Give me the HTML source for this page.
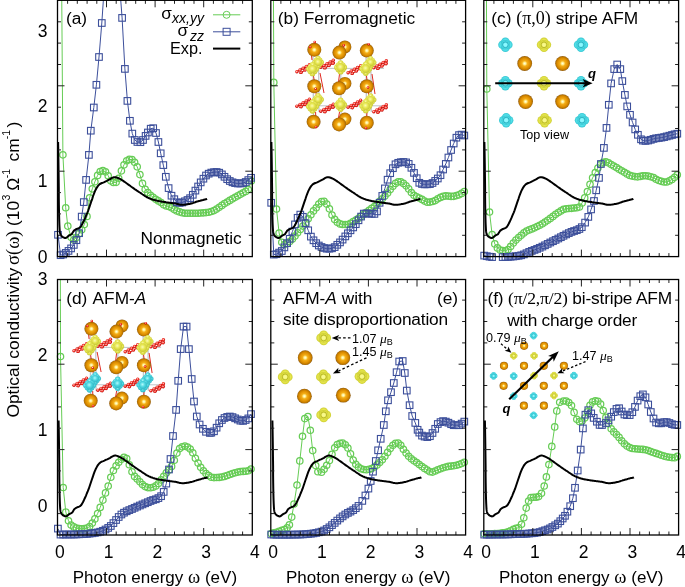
<!DOCTYPE html><html><head><meta charset="utf-8"><style>html,body{margin:0;padding:0;background:#fff;}svg{display:block;will-change:transform;}text{font-family:"Liberation Sans",sans-serif;fill:#000;}</style></head><body>
<svg width="685" height="587" viewBox="0 0 685 587">
<defs>
<clipPath id="clipa"><rect x="57.5" y="0.3" width="194.8" height="256.3"/></clipPath>
<clipPath id="clipb"><rect x="270.8" y="0.3" width="194.8" height="256.3"/></clipPath>
<clipPath id="clipc"><rect x="483.8" y="0.3" width="194.8" height="256.3"/></clipPath>
<clipPath id="clipd"><rect x="57.5" y="279.5" width="194.8" height="255.5"/></clipPath>
<clipPath id="clipe"><rect x="270.8" y="279.5" width="194.8" height="255.5"/></clipPath>
<clipPath id="clipf"><rect x="483.8" y="279.5" width="194.8" height="255.5"/></clipPath>
<radialGradient id="gO" cx="0.5" cy="0.5" r="0.5"><stop offset="0" stop-color="#ffffe8"/><stop offset="0.17" stop-color="#ffee90"/><stop offset="0.36" stop-color="#f4ae18"/><stop offset="0.7" stop-color="#de8e00"/><stop offset="0.9" stop-color="#b97400"/><stop offset="1" stop-color="#8c5a14"/></radialGradient>
<radialGradient id="gY" cx="0.5" cy="0.5" r="0.5"><stop offset="0" stop-color="#f4f480"/><stop offset="0.7" stop-color="#e2e244"/><stop offset="1" stop-color="#cccc34"/></radialGradient>
<radialGradient id="gC" cx="0.5" cy="0.5" r="0.5"><stop offset="0" stop-color="#84f6fa"/><stop offset="0.7" stop-color="#4cdce6"/><stop offset="1" stop-color="#36c4d0"/></radialGradient>
<radialGradient id="gR" cx="0.45" cy="0.42" r="0.58"><stop offset="0" stop-color="#ffe4e0"/><stop offset="0.35" stop-color="#ff6a60"/><stop offset="0.65" stop-color="#e81c14"/><stop offset="1" stop-color="#b00808"/></radialGradient>
<radialGradient id="gY2" cx="0.45" cy="0.42" r="0.6"><stop offset="0" stop-color="#fbfbb0"/><stop offset="0.5" stop-color="#e6e650"/><stop offset="1" stop-color="#c6c636"/></radialGradient>
<radialGradient id="gC2" cx="0.45" cy="0.42" r="0.6"><stop offset="0" stop-color="#b0fafc"/><stop offset="0.5" stop-color="#4cd6e0"/><stop offset="1" stop-color="#30b4c2"/></radialGradient>

</defs>
<path d="M313 57L313.5 118 M340.6 57L341.1 118 M366 57L366.5 118 M318.5 52L319 112 M370.8 52L371.3 112" stroke="#c4c8cc" stroke-width="1.3" fill="none"/><circle cx="344.9" cy="46.9" r="6.5" fill="url(#gO)"/><circle cx="344.9" cy="83.4" r="6.5" fill="url(#gO)"/><circle cx="344.9" cy="119" r="6.5" fill="url(#gO)"/><path d="M310.5 47L312 60 M314.5 42L315 47 M313.5 76L315.6 88.7 M315.6 88.7L316.5 98 M315.6 112L316 128 M320 73L324 93 M368.5 44L370 60 M366.5 76L368 87.5 M368 87.5L369 98 M367 112L366 129 M372 74L375 94 M343.7 45.3L344 52 M339.5 74L338.5 82 M339.5 112L338.5 118" stroke="#e02a22" stroke-width="1" fill="none"/><circle cx="314.3" cy="49.8" r="7" fill="url(#gO)"/><circle cx="339.4" cy="52.6" r="7" fill="url(#gO)"/><circle cx="366.8" cy="50.6" r="7" fill="url(#gO)"/><circle cx="314.3" cy="86.2" r="7" fill="url(#gO)"/><circle cx="339.1" cy="88.2" r="7" fill="url(#gO)"/><circle cx="366.8" cy="86.2" r="7" fill="url(#gO)"/><circle cx="313.6" cy="121.8" r="7" fill="url(#gO)"/><circle cx="339.1" cy="124.4" r="7" fill="url(#gO)"/><circle cx="366.8" cy="122.7" r="7" fill="url(#gO)"/><path d="M300 68.4H384" stroke="#c0c4c8" stroke-width="1" fill="none"/><path d="M296.9 71.8L309.4 64.8M299.4 73.4L310.9 66.8 M320.8 67.3L333.3 60.3M323.3 68.9L334.8 62.3 M348.1 72.8L360.6 65.8M350.6 74.4L362.1 67.8 M373.8 67.8L386.3 60.8M376.3 69.4L387.8 62.8" stroke="#d81c14" stroke-width="1.2" fill="none"/><circle cx="301.12" cy="72.41" r="1.7" fill="url(#gR)"/><circle cx="305.15" cy="70.1" r="1.7" fill="url(#gR)"/><circle cx="309.17" cy="67.79" r="1.7" fill="url(#gR)"/><circle cx="296.9" cy="71.8" r="1.7" fill="url(#gR)"/><circle cx="300.02" cy="70.05" r="1.7" fill="url(#gR)"/><circle cx="303.15" cy="68.3" r="1.7" fill="url(#gR)"/><circle cx="306.27" cy="66.55" r="1.7" fill="url(#gR)"/><circle cx="309.4" cy="64.8" r="1.7" fill="url(#gR)"/><circle cx="325.03" cy="67.91" r="1.7" fill="url(#gR)"/><circle cx="329.05" cy="65.6" r="1.7" fill="url(#gR)"/><circle cx="333.07" cy="63.29" r="1.7" fill="url(#gR)"/><circle cx="320.8" cy="67.3" r="1.7" fill="url(#gR)"/><circle cx="323.93" cy="65.55" r="1.7" fill="url(#gR)"/><circle cx="327.05" cy="63.8" r="1.7" fill="url(#gR)"/><circle cx="330.18" cy="62.05" r="1.7" fill="url(#gR)"/><circle cx="333.3" cy="60.3" r="1.7" fill="url(#gR)"/><circle cx="352.33" cy="73.41" r="1.7" fill="url(#gR)"/><circle cx="356.35" cy="71.1" r="1.7" fill="url(#gR)"/><circle cx="360.38" cy="68.79" r="1.7" fill="url(#gR)"/><circle cx="348.1" cy="72.8" r="1.7" fill="url(#gR)"/><circle cx="351.23" cy="71.05" r="1.7" fill="url(#gR)"/><circle cx="354.35" cy="69.3" r="1.7" fill="url(#gR)"/><circle cx="357.48" cy="67.55" r="1.7" fill="url(#gR)"/><circle cx="360.6" cy="65.8" r="1.7" fill="url(#gR)"/><circle cx="378.03" cy="68.41" r="1.7" fill="url(#gR)"/><circle cx="382.05" cy="66.1" r="1.7" fill="url(#gR)"/><circle cx="386.07" cy="63.79" r="1.7" fill="url(#gR)"/><circle cx="373.8" cy="67.8" r="1.7" fill="url(#gR)"/><circle cx="376.93" cy="66.05" r="1.7" fill="url(#gR)"/><circle cx="380.05" cy="64.3" r="1.7" fill="url(#gR)"/><circle cx="383.18" cy="62.55" r="1.7" fill="url(#gR)"/><circle cx="386.3" cy="60.8" r="1.7" fill="url(#gR)"/><g fill="url(#gY2)"><circle cx="318.1" cy="58.33" r="2.61"/><circle cx="318.1" cy="66.07" r="2.61"/><circle cx="314.77" cy="62.2" r="2.52"/><circle cx="321.43" cy="62.2" r="2.52"/><circle cx="316.03" cy="60.13" r="2.34"/><circle cx="320.17" cy="64.27" r="2.34"/><circle cx="320.17" cy="60.13" r="2.34"/><circle cx="316.03" cy="64.27" r="2.34"/><circle cx="318.1" cy="62.2" r="3.69"/></g><g fill="url(#gY2)"><circle cx="370.6" cy="58.53" r="2.61"/><circle cx="370.6" cy="66.27" r="2.61"/><circle cx="367.27" cy="62.4" r="2.52"/><circle cx="373.93" cy="62.4" r="2.52"/><circle cx="368.53" cy="60.33" r="2.34"/><circle cx="372.67" cy="64.47" r="2.34"/><circle cx="372.67" cy="60.33" r="2.34"/><circle cx="368.53" cy="64.47" r="2.34"/><circle cx="370.6" cy="62.4" r="3.69"/></g><g fill="url(#gY2)"><circle cx="312.5" cy="64.8" r="2.9"/><circle cx="312.5" cy="73.4" r="2.9"/><circle cx="308.8" cy="69.1" r="2.8"/><circle cx="316.2" cy="69.1" r="2.8"/><circle cx="310.2" cy="66.8" r="2.6"/><circle cx="314.8" cy="71.4" r="2.6"/><circle cx="314.8" cy="66.8" r="2.6"/><circle cx="310.2" cy="71.4" r="2.6"/><circle cx="312.5" cy="69.1" r="4.1"/></g><g fill="url(#gY2)"><circle cx="340.6" cy="63.1" r="2.9"/><circle cx="340.6" cy="71.7" r="2.9"/><circle cx="336.9" cy="67.4" r="2.8"/><circle cx="344.3" cy="67.4" r="2.8"/><circle cx="338.3" cy="65.1" r="2.6"/><circle cx="342.9" cy="69.7" r="2.6"/><circle cx="342.9" cy="65.1" r="2.6"/><circle cx="338.3" cy="69.7" r="2.6"/><circle cx="340.6" cy="67.4" r="4.1"/></g><g fill="url(#gY2)"><circle cx="365.8" cy="64.4" r="2.9"/><circle cx="365.8" cy="73" r="2.9"/><circle cx="362.1" cy="68.7" r="2.8"/><circle cx="369.5" cy="68.7" r="2.8"/><circle cx="363.5" cy="66.4" r="2.6"/><circle cx="368.1" cy="71" r="2.6"/><circle cx="368.1" cy="66.4" r="2.6"/><circle cx="363.5" cy="71" r="2.6"/><circle cx="365.8" cy="68.7" r="4.1"/></g><path d="M300 105.8H384" stroke="#c0c4c8" stroke-width="1" fill="none"/><path d="M296.9 106.2L309.4 99.2M299.4 107.8L310.9 101.2 M320.8 111.2L333.3 104.2M323.3 112.8L334.8 106.2 M348.1 107.2L360.6 100.2M350.6 108.8L362.1 102.2 M373.8 111.7L386.3 104.7M376.3 113.3L387.8 106.7" stroke="#d81c14" stroke-width="1.2" fill="none"/><circle cx="301.12" cy="106.81" r="1.7" fill="url(#gR)"/><circle cx="305.15" cy="104.5" r="1.7" fill="url(#gR)"/><circle cx="309.17" cy="102.19" r="1.7" fill="url(#gR)"/><circle cx="296.9" cy="106.2" r="1.7" fill="url(#gR)"/><circle cx="300.02" cy="104.45" r="1.7" fill="url(#gR)"/><circle cx="303.15" cy="102.7" r="1.7" fill="url(#gR)"/><circle cx="306.27" cy="100.95" r="1.7" fill="url(#gR)"/><circle cx="309.4" cy="99.2" r="1.7" fill="url(#gR)"/><circle cx="325.03" cy="111.81" r="1.7" fill="url(#gR)"/><circle cx="329.05" cy="109.5" r="1.7" fill="url(#gR)"/><circle cx="333.07" cy="107.19" r="1.7" fill="url(#gR)"/><circle cx="320.8" cy="111.2" r="1.7" fill="url(#gR)"/><circle cx="323.93" cy="109.45" r="1.7" fill="url(#gR)"/><circle cx="327.05" cy="107.7" r="1.7" fill="url(#gR)"/><circle cx="330.18" cy="105.95" r="1.7" fill="url(#gR)"/><circle cx="333.3" cy="104.2" r="1.7" fill="url(#gR)"/><circle cx="352.33" cy="107.81" r="1.7" fill="url(#gR)"/><circle cx="356.35" cy="105.5" r="1.7" fill="url(#gR)"/><circle cx="360.38" cy="103.19" r="1.7" fill="url(#gR)"/><circle cx="348.1" cy="107.2" r="1.7" fill="url(#gR)"/><circle cx="351.23" cy="105.45" r="1.7" fill="url(#gR)"/><circle cx="354.35" cy="103.7" r="1.7" fill="url(#gR)"/><circle cx="357.48" cy="101.95" r="1.7" fill="url(#gR)"/><circle cx="360.6" cy="100.2" r="1.7" fill="url(#gR)"/><circle cx="378.03" cy="112.31" r="1.7" fill="url(#gR)"/><circle cx="382.05" cy="110" r="1.7" fill="url(#gR)"/><circle cx="386.07" cy="107.69" r="1.7" fill="url(#gR)"/><circle cx="373.8" cy="111.7" r="1.7" fill="url(#gR)"/><circle cx="376.93" cy="109.95" r="1.7" fill="url(#gR)"/><circle cx="380.05" cy="108.2" r="1.7" fill="url(#gR)"/><circle cx="383.18" cy="106.45" r="1.7" fill="url(#gR)"/><circle cx="386.3" cy="104.7" r="1.7" fill="url(#gR)"/><g fill="url(#gY2)"><circle cx="318.1" cy="95.73" r="2.61"/><circle cx="318.1" cy="103.47" r="2.61"/><circle cx="314.77" cy="99.6" r="2.52"/><circle cx="321.43" cy="99.6" r="2.52"/><circle cx="316.03" cy="97.53" r="2.34"/><circle cx="320.17" cy="101.67" r="2.34"/><circle cx="320.17" cy="97.53" r="2.34"/><circle cx="316.03" cy="101.67" r="2.34"/><circle cx="318.1" cy="99.6" r="3.69"/></g><g fill="url(#gY2)"><circle cx="370.6" cy="95.93" r="2.61"/><circle cx="370.6" cy="103.67" r="2.61"/><circle cx="367.27" cy="99.8" r="2.52"/><circle cx="373.93" cy="99.8" r="2.52"/><circle cx="368.53" cy="97.73" r="2.34"/><circle cx="372.67" cy="101.87" r="2.34"/><circle cx="372.67" cy="97.73" r="2.34"/><circle cx="368.53" cy="101.87" r="2.34"/><circle cx="370.6" cy="99.8" r="3.69"/></g><g fill="url(#gY2)"><circle cx="312.5" cy="102.2" r="2.9"/><circle cx="312.5" cy="110.8" r="2.9"/><circle cx="308.8" cy="106.5" r="2.8"/><circle cx="316.2" cy="106.5" r="2.8"/><circle cx="310.2" cy="104.2" r="2.6"/><circle cx="314.8" cy="108.8" r="2.6"/><circle cx="314.8" cy="104.2" r="2.6"/><circle cx="310.2" cy="108.8" r="2.6"/><circle cx="312.5" cy="106.5" r="4.1"/></g><g fill="url(#gY2)"><circle cx="340.6" cy="100.5" r="2.9"/><circle cx="340.6" cy="109.1" r="2.9"/><circle cx="336.9" cy="104.8" r="2.8"/><circle cx="344.3" cy="104.8" r="2.8"/><circle cx="338.3" cy="102.5" r="2.6"/><circle cx="342.9" cy="107.1" r="2.6"/><circle cx="342.9" cy="102.5" r="2.6"/><circle cx="338.3" cy="107.1" r="2.6"/><circle cx="340.6" cy="104.8" r="4.1"/></g><g fill="url(#gY2)"><circle cx="365.8" cy="101.8" r="2.9"/><circle cx="365.8" cy="110.4" r="2.9"/><circle cx="362.1" cy="106.1" r="2.8"/><circle cx="369.5" cy="106.1" r="2.8"/><circle cx="363.5" cy="103.8" r="2.6"/><circle cx="368.1" cy="108.4" r="2.6"/><circle cx="368.1" cy="103.8" r="2.6"/><circle cx="363.5" cy="108.4" r="2.6"/><circle cx="365.8" cy="106.1" r="4.1"/></g><circle cx="310.2" cy="47" r="1.3" fill="url(#gR)"/><circle cx="314.7" cy="42" r="1.3" fill="url(#gR)"/><circle cx="343.7" cy="45.3" r="1.3" fill="url(#gR)"/><circle cx="368.6" cy="44.2" r="1.3" fill="url(#gR)"/><circle cx="315.6" cy="88.7" r="1.3" fill="url(#gR)"/><circle cx="368" cy="87.5" r="1.3" fill="url(#gR)"/><circle cx="316" cy="127" r="1.3" fill="url(#gR)"/><circle cx="366" cy="128" r="1.3" fill="url(#gR)"/><path d="M90.1 336L90.6 397 M117.7 336L118.2 397 M143.1 336L143.6 397 M95.6 331L96.1 391 M147.9 331L148.4 391" stroke="#c4c8cc" stroke-width="1.3" fill="none"/><circle cx="122" cy="325.9" r="6.5" fill="url(#gO)"/><circle cx="122" cy="362.4" r="6.5" fill="url(#gO)"/><circle cx="122" cy="398" r="6.5" fill="url(#gO)"/><path d="M87.6 326L89.1 339 M91.6 321L92.1 326 M90.6 355L92.7 367.7 M92.7 367.7L93.6 377 M92.7 391L93.1 407 M97.1 352L101.1 372 M145.6 323L147.1 339 M143.6 355L145.1 366.5 M145.1 366.5L146.1 377 M144.1 391L143.1 408 M149.1 353L152.1 373 M120.8 324.3L121.1 331 M116.6 353L115.6 361 M116.6 391L115.6 397" stroke="#e02a22" stroke-width="1" fill="none"/><circle cx="91.4" cy="328.8" r="7" fill="url(#gO)"/><circle cx="116.5" cy="331.6" r="7" fill="url(#gO)"/><circle cx="143.9" cy="329.6" r="7" fill="url(#gO)"/><circle cx="91.4" cy="365.2" r="7" fill="url(#gO)"/><circle cx="116.2" cy="367.2" r="7" fill="url(#gO)"/><circle cx="143.9" cy="365.2" r="7" fill="url(#gO)"/><circle cx="90.7" cy="400.8" r="7" fill="url(#gO)"/><circle cx="116.2" cy="403.4" r="7" fill="url(#gO)"/><circle cx="143.9" cy="401.7" r="7" fill="url(#gO)"/><path d="M77.1 347.4H161.1" stroke="#c0c4c8" stroke-width="1" fill="none"/><path d="M74 350.8L86.5 343.8M76.5 352.4L88 345.8 M97.9 346.3L110.4 339.3M100.4 347.9L111.9 341.3 M125.2 351.8L137.7 344.8M127.7 353.4L139.2 346.8 M150.9 346.8L163.4 339.8M153.4 348.4L164.9 341.8" stroke="#d81c14" stroke-width="1.2" fill="none"/><circle cx="78.22" cy="351.41" r="1.7" fill="url(#gR)"/><circle cx="82.25" cy="349.1" r="1.7" fill="url(#gR)"/><circle cx="86.27" cy="346.79" r="1.7" fill="url(#gR)"/><circle cx="74" cy="350.8" r="1.7" fill="url(#gR)"/><circle cx="77.12" cy="349.05" r="1.7" fill="url(#gR)"/><circle cx="80.25" cy="347.3" r="1.7" fill="url(#gR)"/><circle cx="83.37" cy="345.55" r="1.7" fill="url(#gR)"/><circle cx="86.5" cy="343.8" r="1.7" fill="url(#gR)"/><circle cx="102.13" cy="346.91" r="1.7" fill="url(#gR)"/><circle cx="106.15" cy="344.6" r="1.7" fill="url(#gR)"/><circle cx="110.17" cy="342.29" r="1.7" fill="url(#gR)"/><circle cx="97.9" cy="346.3" r="1.7" fill="url(#gR)"/><circle cx="101.03" cy="344.55" r="1.7" fill="url(#gR)"/><circle cx="104.15" cy="342.8" r="1.7" fill="url(#gR)"/><circle cx="107.28" cy="341.05" r="1.7" fill="url(#gR)"/><circle cx="110.4" cy="339.3" r="1.7" fill="url(#gR)"/><circle cx="129.43" cy="352.41" r="1.7" fill="url(#gR)"/><circle cx="133.45" cy="350.1" r="1.7" fill="url(#gR)"/><circle cx="137.47" cy="347.79" r="1.7" fill="url(#gR)"/><circle cx="125.2" cy="351.8" r="1.7" fill="url(#gR)"/><circle cx="128.33" cy="350.05" r="1.7" fill="url(#gR)"/><circle cx="131.45" cy="348.3" r="1.7" fill="url(#gR)"/><circle cx="134.58" cy="346.55" r="1.7" fill="url(#gR)"/><circle cx="137.7" cy="344.8" r="1.7" fill="url(#gR)"/><circle cx="155.13" cy="347.41" r="1.7" fill="url(#gR)"/><circle cx="159.15" cy="345.1" r="1.7" fill="url(#gR)"/><circle cx="163.17" cy="342.79" r="1.7" fill="url(#gR)"/><circle cx="150.9" cy="346.8" r="1.7" fill="url(#gR)"/><circle cx="154.03" cy="345.05" r="1.7" fill="url(#gR)"/><circle cx="157.15" cy="343.3" r="1.7" fill="url(#gR)"/><circle cx="160.28" cy="341.55" r="1.7" fill="url(#gR)"/><circle cx="163.4" cy="339.8" r="1.7" fill="url(#gR)"/><g fill="url(#gY2)"><circle cx="95.2" cy="337.33" r="2.61"/><circle cx="95.2" cy="345.07" r="2.61"/><circle cx="91.87" cy="341.2" r="2.52"/><circle cx="98.53" cy="341.2" r="2.52"/><circle cx="93.13" cy="339.13" r="2.34"/><circle cx="97.27" cy="343.27" r="2.34"/><circle cx="97.27" cy="339.13" r="2.34"/><circle cx="93.13" cy="343.27" r="2.34"/><circle cx="95.2" cy="341.2" r="3.69"/></g><g fill="url(#gY2)"><circle cx="147.7" cy="337.53" r="2.61"/><circle cx="147.7" cy="345.27" r="2.61"/><circle cx="144.37" cy="341.4" r="2.52"/><circle cx="151.03" cy="341.4" r="2.52"/><circle cx="145.63" cy="339.33" r="2.34"/><circle cx="149.77" cy="343.47" r="2.34"/><circle cx="149.77" cy="339.33" r="2.34"/><circle cx="145.63" cy="343.47" r="2.34"/><circle cx="147.7" cy="341.4" r="3.69"/></g><g fill="url(#gY2)"><circle cx="89.6" cy="343.8" r="2.9"/><circle cx="89.6" cy="352.4" r="2.9"/><circle cx="85.9" cy="348.1" r="2.8"/><circle cx="93.3" cy="348.1" r="2.8"/><circle cx="87.3" cy="345.8" r="2.6"/><circle cx="91.9" cy="350.4" r="2.6"/><circle cx="91.9" cy="345.8" r="2.6"/><circle cx="87.3" cy="350.4" r="2.6"/><circle cx="89.6" cy="348.1" r="4.1"/></g><g fill="url(#gY2)"><circle cx="117.7" cy="342.1" r="2.9"/><circle cx="117.7" cy="350.7" r="2.9"/><circle cx="114" cy="346.4" r="2.8"/><circle cx="121.4" cy="346.4" r="2.8"/><circle cx="115.4" cy="344.1" r="2.6"/><circle cx="120" cy="348.7" r="2.6"/><circle cx="120" cy="344.1" r="2.6"/><circle cx="115.4" cy="348.7" r="2.6"/><circle cx="117.7" cy="346.4" r="4.1"/></g><g fill="url(#gY2)"><circle cx="142.9" cy="343.4" r="2.9"/><circle cx="142.9" cy="352" r="2.9"/><circle cx="139.2" cy="347.7" r="2.8"/><circle cx="146.6" cy="347.7" r="2.8"/><circle cx="140.6" cy="345.4" r="2.6"/><circle cx="145.2" cy="350" r="2.6"/><circle cx="145.2" cy="345.4" r="2.6"/><circle cx="140.6" cy="350" r="2.6"/><circle cx="142.9" cy="347.7" r="4.1"/></g><path d="M77.1 384.8H161.1" stroke="#c0c4c8" stroke-width="1" fill="none"/><path d="M74 385.2L86.5 378.2M76.5 386.8L88 380.2 M97.9 390.2L110.4 383.2M100.4 391.8L111.9 385.2 M125.2 386.2L137.7 379.2M127.7 387.8L139.2 381.2 M150.9 390.7L163.4 383.7M153.4 392.3L164.9 385.7" stroke="#d81c14" stroke-width="1.2" fill="none"/><circle cx="78.22" cy="385.81" r="1.7" fill="url(#gR)"/><circle cx="82.25" cy="383.5" r="1.7" fill="url(#gR)"/><circle cx="86.27" cy="381.19" r="1.7" fill="url(#gR)"/><circle cx="74" cy="385.2" r="1.7" fill="url(#gR)"/><circle cx="77.12" cy="383.45" r="1.7" fill="url(#gR)"/><circle cx="80.25" cy="381.7" r="1.7" fill="url(#gR)"/><circle cx="83.37" cy="379.95" r="1.7" fill="url(#gR)"/><circle cx="86.5" cy="378.2" r="1.7" fill="url(#gR)"/><circle cx="102.13" cy="390.81" r="1.7" fill="url(#gR)"/><circle cx="106.15" cy="388.5" r="1.7" fill="url(#gR)"/><circle cx="110.17" cy="386.19" r="1.7" fill="url(#gR)"/><circle cx="97.9" cy="390.2" r="1.7" fill="url(#gR)"/><circle cx="101.03" cy="388.45" r="1.7" fill="url(#gR)"/><circle cx="104.15" cy="386.7" r="1.7" fill="url(#gR)"/><circle cx="107.28" cy="384.95" r="1.7" fill="url(#gR)"/><circle cx="110.4" cy="383.2" r="1.7" fill="url(#gR)"/><circle cx="129.43" cy="386.81" r="1.7" fill="url(#gR)"/><circle cx="133.45" cy="384.5" r="1.7" fill="url(#gR)"/><circle cx="137.47" cy="382.19" r="1.7" fill="url(#gR)"/><circle cx="125.2" cy="386.2" r="1.7" fill="url(#gR)"/><circle cx="128.33" cy="384.45" r="1.7" fill="url(#gR)"/><circle cx="131.45" cy="382.7" r="1.7" fill="url(#gR)"/><circle cx="134.58" cy="380.95" r="1.7" fill="url(#gR)"/><circle cx="137.7" cy="379.2" r="1.7" fill="url(#gR)"/><circle cx="155.13" cy="391.31" r="1.7" fill="url(#gR)"/><circle cx="159.15" cy="389" r="1.7" fill="url(#gR)"/><circle cx="163.17" cy="386.69" r="1.7" fill="url(#gR)"/><circle cx="150.9" cy="390.7" r="1.7" fill="url(#gR)"/><circle cx="154.03" cy="388.95" r="1.7" fill="url(#gR)"/><circle cx="157.15" cy="387.2" r="1.7" fill="url(#gR)"/><circle cx="160.28" cy="385.45" r="1.7" fill="url(#gR)"/><circle cx="163.4" cy="383.7" r="1.7" fill="url(#gR)"/><g fill="url(#gC2)"><circle cx="95.2" cy="374.73" r="2.61"/><circle cx="95.2" cy="382.47" r="2.61"/><circle cx="91.87" cy="378.6" r="2.52"/><circle cx="98.53" cy="378.6" r="2.52"/><circle cx="93.13" cy="376.53" r="2.34"/><circle cx="97.27" cy="380.67" r="2.34"/><circle cx="97.27" cy="376.53" r="2.34"/><circle cx="93.13" cy="380.67" r="2.34"/><circle cx="95.2" cy="378.6" r="3.69"/></g><g fill="url(#gC2)"><circle cx="147.7" cy="374.93" r="2.61"/><circle cx="147.7" cy="382.67" r="2.61"/><circle cx="144.37" cy="378.8" r="2.52"/><circle cx="151.03" cy="378.8" r="2.52"/><circle cx="145.63" cy="376.73" r="2.34"/><circle cx="149.77" cy="380.87" r="2.34"/><circle cx="149.77" cy="376.73" r="2.34"/><circle cx="145.63" cy="380.87" r="2.34"/><circle cx="147.7" cy="378.8" r="3.69"/></g><g fill="url(#gC2)"><circle cx="89.6" cy="381.2" r="2.9"/><circle cx="89.6" cy="389.8" r="2.9"/><circle cx="85.9" cy="385.5" r="2.8"/><circle cx="93.3" cy="385.5" r="2.8"/><circle cx="87.3" cy="383.2" r="2.6"/><circle cx="91.9" cy="387.8" r="2.6"/><circle cx="91.9" cy="383.2" r="2.6"/><circle cx="87.3" cy="387.8" r="2.6"/><circle cx="89.6" cy="385.5" r="4.1"/></g><g fill="url(#gC2)"><circle cx="117.7" cy="379.5" r="2.9"/><circle cx="117.7" cy="388.1" r="2.9"/><circle cx="114" cy="383.8" r="2.8"/><circle cx="121.4" cy="383.8" r="2.8"/><circle cx="115.4" cy="381.5" r="2.6"/><circle cx="120" cy="386.1" r="2.6"/><circle cx="120" cy="381.5" r="2.6"/><circle cx="115.4" cy="386.1" r="2.6"/><circle cx="117.7" cy="383.8" r="4.1"/></g><g fill="url(#gC2)"><circle cx="142.9" cy="380.8" r="2.9"/><circle cx="142.9" cy="389.4" r="2.9"/><circle cx="139.2" cy="385.1" r="2.8"/><circle cx="146.6" cy="385.1" r="2.8"/><circle cx="140.6" cy="382.8" r="2.6"/><circle cx="145.2" cy="387.4" r="2.6"/><circle cx="145.2" cy="382.8" r="2.6"/><circle cx="140.6" cy="387.4" r="2.6"/><circle cx="142.9" cy="385.1" r="4.1"/></g><circle cx="87.3" cy="326" r="1.3" fill="url(#gR)"/><circle cx="91.8" cy="321" r="1.3" fill="url(#gR)"/><circle cx="120.8" cy="324.3" r="1.3" fill="url(#gR)"/><circle cx="145.7" cy="323.2" r="1.3" fill="url(#gR)"/><circle cx="92.7" cy="367.7" r="1.3" fill="url(#gR)"/><circle cx="145.1" cy="366.5" r="1.3" fill="url(#gR)"/><circle cx="93.1" cy="406" r="1.3" fill="url(#gR)"/><circle cx="143.1" cy="407" r="1.3" fill="url(#gR)"/><g fill="url(#gC)"><circle cx="508.28" cy="44.8" r="4.32"/><circle cx="502.52" cy="44.8" r="4.32"/><circle cx="505.4" cy="47.68" r="4.32"/><circle cx="505.4" cy="41.92" r="4.32"/><circle cx="505.4" cy="44.8" r="4.75"/></g><circle cx="505.4" cy="44.8" r="2.88" fill="none" stroke="#1a98aa" stroke-width="0.86" opacity="0.7"/><circle cx="505.4" cy="44.8" r="1.87" fill="#8cf8ff"/><g fill="url(#gY)"><circle cx="546.88" cy="44.8" r="4.32"/><circle cx="541.12" cy="44.8" r="4.32"/><circle cx="544" cy="47.68" r="4.32"/><circle cx="544" cy="41.92" r="4.32"/><circle cx="544" cy="44.8" r="4.75"/></g><circle cx="544" cy="44.8" r="2.88" fill="none" stroke="#a0a018" stroke-width="0.86" opacity="0.7"/><circle cx="544" cy="44.8" r="1.87" fill="#f8f88c"/><g fill="url(#gC)"><circle cx="583.88" cy="44.8" r="4.32"/><circle cx="578.12" cy="44.8" r="4.32"/><circle cx="581" cy="47.68" r="4.32"/><circle cx="581" cy="41.92" r="4.32"/><circle cx="581" cy="44.8" r="4.75"/></g><circle cx="581" cy="44.8" r="2.88" fill="none" stroke="#1a98aa" stroke-width="0.86" opacity="0.7"/><circle cx="581" cy="44.8" r="1.87" fill="#8cf8ff"/><g fill="url(#gC)"><circle cx="508.28" cy="83.2" r="4.32"/><circle cx="502.52" cy="83.2" r="4.32"/><circle cx="505.4" cy="86.08" r="4.32"/><circle cx="505.4" cy="80.32" r="4.32"/><circle cx="505.4" cy="83.2" r="4.75"/></g><circle cx="505.4" cy="83.2" r="2.88" fill="none" stroke="#1a98aa" stroke-width="0.86" opacity="0.7"/><circle cx="505.4" cy="83.2" r="1.87" fill="#8cf8ff"/><g fill="url(#gY)"><circle cx="546.88" cy="83.2" r="4.32"/><circle cx="541.12" cy="83.2" r="4.32"/><circle cx="544" cy="86.08" r="4.32"/><circle cx="544" cy="80.32" r="4.32"/><circle cx="544" cy="83.2" r="4.75"/></g><circle cx="544" cy="83.2" r="2.88" fill="none" stroke="#a0a018" stroke-width="0.86" opacity="0.7"/><circle cx="544" cy="83.2" r="1.87" fill="#f8f88c"/><g fill="url(#gC)"><circle cx="583.88" cy="83.2" r="4.32"/><circle cx="578.12" cy="83.2" r="4.32"/><circle cx="581" cy="86.08" r="4.32"/><circle cx="581" cy="80.32" r="4.32"/><circle cx="581" cy="83.2" r="4.75"/></g><circle cx="581" cy="83.2" r="2.88" fill="none" stroke="#1a98aa" stroke-width="0.86" opacity="0.7"/><circle cx="581" cy="83.2" r="1.87" fill="#8cf8ff"/><g fill="url(#gC)"><circle cx="509.08" cy="120.2" r="4.32"/><circle cx="503.32" cy="120.2" r="4.32"/><circle cx="506.2" cy="123.08" r="4.32"/><circle cx="506.2" cy="117.32" r="4.32"/><circle cx="506.2" cy="120.2" r="4.75"/></g><circle cx="506.2" cy="120.2" r="2.88" fill="none" stroke="#1a98aa" stroke-width="0.86" opacity="0.7"/><circle cx="506.2" cy="120.2" r="1.87" fill="#8cf8ff"/><g fill="url(#gY)"><circle cx="547.48" cy="120.2" r="4.32"/><circle cx="541.72" cy="120.2" r="4.32"/><circle cx="544.6" cy="123.08" r="4.32"/><circle cx="544.6" cy="117.32" r="4.32"/><circle cx="544.6" cy="120.2" r="4.75"/></g><circle cx="544.6" cy="120.2" r="2.88" fill="none" stroke="#a0a018" stroke-width="0.86" opacity="0.7"/><circle cx="544.6" cy="120.2" r="1.87" fill="#f8f88c"/><g fill="url(#gC)"><circle cx="584.88" cy="120.2" r="4.32"/><circle cx="579.12" cy="120.2" r="4.32"/><circle cx="582" cy="123.08" r="4.32"/><circle cx="582" cy="117.32" r="4.32"/><circle cx="582" cy="120.2" r="4.75"/></g><circle cx="582" cy="120.2" r="2.88" fill="none" stroke="#1a98aa" stroke-width="0.86" opacity="0.7"/><circle cx="582" cy="120.2" r="1.87" fill="#8cf8ff"/><circle cx="524.7" cy="63.5" r="7.4" fill="url(#gO)"/><circle cx="562.6" cy="63.5" r="7.4" fill="url(#gO)"/><circle cx="525.6" cy="101.6" r="7.4" fill="url(#gO)"/><circle cx="562.6" cy="101.6" r="7.4" fill="url(#gO)"/><path d="M495.2 83.3H585" stroke="#000" stroke-width="2"/><path d="M592.6 83.3L582.6 87.55L585.1 83.3L582.6 79.05Z" fill="#000"/><text x="588" y="78" font-size="13" font-weight="bold" font-style="italic">q</text><text x="520" y="139.4" font-size="12.6">Top view</text><g fill="url(#gY)"><circle cx="326.66" cy="337.9" r="4.44"/><circle cx="320.74" cy="337.9" r="4.44"/><circle cx="323.7" cy="340.86" r="4.44"/><circle cx="323.7" cy="334.94" r="4.44"/><circle cx="323.7" cy="337.9" r="4.88"/></g><circle cx="323.7" cy="337.9" r="2.96" fill="none" stroke="#a0a018" stroke-width="0.89" opacity="0.7"/><circle cx="323.7" cy="337.9" r="1.92" fill="#f8f88c"/><g fill="url(#gY)"><circle cx="288.16" cy="376.9" r="4.44"/><circle cx="282.24" cy="376.9" r="4.44"/><circle cx="285.2" cy="379.86" r="4.44"/><circle cx="285.2" cy="373.94" r="4.44"/><circle cx="285.2" cy="376.9" r="4.88"/></g><circle cx="285.2" cy="376.9" r="2.96" fill="none" stroke="#a0a018" stroke-width="0.89" opacity="0.7"/><circle cx="285.2" cy="376.9" r="1.92" fill="#f8f88c"/><g fill="url(#gY)"><circle cx="326.36" cy="376.9" r="4.44"/><circle cx="320.44" cy="376.9" r="4.44"/><circle cx="323.4" cy="379.86" r="4.44"/><circle cx="323.4" cy="373.94" r="4.44"/><circle cx="323.4" cy="376.9" r="4.88"/></g><circle cx="323.4" cy="376.9" r="2.96" fill="none" stroke="#a0a018" stroke-width="0.89" opacity="0.7"/><circle cx="323.4" cy="376.9" r="1.92" fill="#f8f88c"/><g fill="url(#gY)"><circle cx="364.96" cy="376.5" r="4.44"/><circle cx="359.04" cy="376.5" r="4.44"/><circle cx="362" cy="379.46" r="4.44"/><circle cx="362" cy="373.54" r="4.44"/><circle cx="362" cy="376.5" r="4.88"/></g><circle cx="362" cy="376.5" r="2.96" fill="none" stroke="#a0a018" stroke-width="0.89" opacity="0.7"/><circle cx="362" cy="376.5" r="1.92" fill="#f8f88c"/><g fill="url(#gY)"><circle cx="326.66" cy="414.9" r="4.44"/><circle cx="320.74" cy="414.9" r="4.44"/><circle cx="323.7" cy="417.86" r="4.44"/><circle cx="323.7" cy="411.94" r="4.44"/><circle cx="323.7" cy="414.9" r="4.88"/></g><circle cx="323.7" cy="414.9" r="2.96" fill="none" stroke="#a0a018" stroke-width="0.89" opacity="0.7"/><circle cx="323.7" cy="414.9" r="1.92" fill="#f8f88c"/><circle cx="305.2" cy="357.7" r="7.4" fill="url(#gO)"/><circle cx="342.8" cy="357.7" r="7.4" fill="url(#gO)"/><circle cx="304.4" cy="396.2" r="7.4" fill="url(#gO)"/><circle cx="343.3" cy="395.2" r="7.4" fill="url(#gO)"/><path d="M350.5 337.9H338" stroke="#000" stroke-width="1.3" stroke-dasharray="2.6,2.2"/><path d="M331.7 337.9L339.2 334.9L337.32 337.9L339.2 340.9Z" fill="#000"/><path d="M366.5 357.8L338.33 371.05" stroke="#000" stroke-width="1.3" stroke-dasharray="2.6,2.2"/><path d="M332.9 373.6L338.41 367.69L337.99 371.21L340.96 373.12Z" fill="#000"/><text x="352" y="343.4" font-size="12.6">1.07 <tspan font-family="Liberation Serif" font-style="italic" font-size="13.5">μ</tspan><tspan font-size="9" dy="2">B</tspan></text><text x="352" y="355.6" font-size="12.6">1.45 <tspan font-family="Liberation Serif" font-style="italic" font-size="13.5">μ</tspan><tspan font-size="9" dy="2">B</tspan></text><g fill="url(#gC)"><circle cx="535.16" cy="335.6" r="2.34"/><circle cx="532.04" cy="335.6" r="2.34"/><circle cx="533.6" cy="337.16" r="2.34"/><circle cx="533.6" cy="334.04" r="2.34"/><circle cx="533.6" cy="335.6" r="2.57"/></g><circle cx="533.6" cy="335.6" r="1.56" fill="none" stroke="#1a98aa" stroke-width="0.5" opacity="0.7"/><circle cx="533.6" cy="335.6" r="1.01" fill="#8cf8ff"/><g fill="url(#gC)"><circle cx="495.16" cy="375.9" r="2.34"/><circle cx="492.04" cy="375.9" r="2.34"/><circle cx="493.6" cy="377.46" r="2.34"/><circle cx="493.6" cy="374.34" r="2.34"/><circle cx="493.6" cy="375.9" r="2.57"/></g><circle cx="493.6" cy="375.9" r="1.56" fill="none" stroke="#1a98aa" stroke-width="0.5" opacity="0.7"/><circle cx="493.6" cy="375.9" r="1.01" fill="#8cf8ff"/><g fill="url(#gC)"><circle cx="515.26" cy="376.1" r="2.34"/><circle cx="512.14" cy="376.1" r="2.34"/><circle cx="513.7" cy="377.66" r="2.34"/><circle cx="513.7" cy="374.54" r="2.34"/><circle cx="513.7" cy="376.1" r="2.57"/></g><circle cx="513.7" cy="376.1" r="1.56" fill="none" stroke="#1a98aa" stroke-width="0.5" opacity="0.7"/><circle cx="513.7" cy="376.1" r="1.01" fill="#8cf8ff"/><g fill="url(#gC)"><circle cx="575.46" cy="375.7" r="2.34"/><circle cx="572.34" cy="375.7" r="2.34"/><circle cx="573.9" cy="377.26" r="2.34"/><circle cx="573.9" cy="374.14" r="2.34"/><circle cx="573.9" cy="375.7" r="2.57"/></g><circle cx="573.9" cy="375.7" r="1.56" fill="none" stroke="#1a98aa" stroke-width="0.5" opacity="0.7"/><circle cx="573.9" cy="375.7" r="1.01" fill="#8cf8ff"/><g fill="url(#gC)"><circle cx="515.26" cy="396.1" r="2.34"/><circle cx="512.14" cy="396.1" r="2.34"/><circle cx="513.7" cy="397.66" r="2.34"/><circle cx="513.7" cy="394.54" r="2.34"/><circle cx="513.7" cy="396.1" r="2.57"/></g><circle cx="513.7" cy="396.1" r="1.56" fill="none" stroke="#1a98aa" stroke-width="0.5" opacity="0.7"/><circle cx="513.7" cy="396.1" r="1.01" fill="#8cf8ff"/><g fill="url(#gC)"><circle cx="535.16" cy="396.1" r="2.34"/><circle cx="532.04" cy="396.1" r="2.34"/><circle cx="533.6" cy="397.66" r="2.34"/><circle cx="533.6" cy="394.54" r="2.34"/><circle cx="533.6" cy="396.1" r="2.57"/></g><circle cx="533.6" cy="396.1" r="1.56" fill="none" stroke="#1a98aa" stroke-width="0.5" opacity="0.7"/><circle cx="533.6" cy="396.1" r="1.01" fill="#8cf8ff"/><g fill="url(#gC)"><circle cx="535.16" cy="415.3" r="2.34"/><circle cx="532.04" cy="415.3" r="2.34"/><circle cx="533.6" cy="416.86" r="2.34"/><circle cx="533.6" cy="413.74" r="2.34"/><circle cx="533.6" cy="415.3" r="2.57"/></g><circle cx="533.6" cy="415.3" r="1.56" fill="none" stroke="#1a98aa" stroke-width="0.5" opacity="0.7"/><circle cx="533.6" cy="415.3" r="1.01" fill="#8cf8ff"/><g fill="url(#gY)"><circle cx="515.26" cy="355.8" r="2.34"/><circle cx="512.14" cy="355.8" r="2.34"/><circle cx="513.7" cy="357.36" r="2.34"/><circle cx="513.7" cy="354.24" r="2.34"/><circle cx="513.7" cy="355.8" r="2.57"/></g><circle cx="513.7" cy="355.8" r="1.56" fill="none" stroke="#a0a018" stroke-width="0.5" opacity="0.7"/><circle cx="513.7" cy="355.8" r="1.01" fill="#f8f88c"/><g fill="url(#gY)"><circle cx="535.66" cy="355.8" r="2.34"/><circle cx="532.54" cy="355.8" r="2.34"/><circle cx="534.1" cy="357.36" r="2.34"/><circle cx="534.1" cy="354.24" r="2.34"/><circle cx="534.1" cy="355.8" r="2.57"/></g><circle cx="534.1" cy="355.8" r="1.56" fill="none" stroke="#a0a018" stroke-width="0.5" opacity="0.7"/><circle cx="534.1" cy="355.8" r="1.01" fill="#f8f88c"/><g fill="url(#gY)"><circle cx="535.66" cy="375.6" r="2.34"/><circle cx="532.54" cy="375.6" r="2.34"/><circle cx="534.1" cy="377.16" r="2.34"/><circle cx="534.1" cy="374.04" r="2.34"/><circle cx="534.1" cy="375.6" r="2.57"/></g><circle cx="534.1" cy="375.6" r="1.56" fill="none" stroke="#a0a018" stroke-width="0.5" opacity="0.7"/><circle cx="534.1" cy="375.6" r="1.01" fill="#f8f88c"/><g fill="url(#gY)"><circle cx="555.56" cy="375.6" r="2.34"/><circle cx="552.44" cy="375.6" r="2.34"/><circle cx="554" cy="377.16" r="2.34"/><circle cx="554" cy="374.04" r="2.34"/><circle cx="554" cy="375.6" r="2.57"/></g><circle cx="554" cy="375.6" r="1.56" fill="none" stroke="#a0a018" stroke-width="0.5" opacity="0.7"/><circle cx="554" cy="375.6" r="1.01" fill="#f8f88c"/><g fill="url(#gY)"><circle cx="555.56" cy="395.5" r="2.34"/><circle cx="552.44" cy="395.5" r="2.34"/><circle cx="554" cy="397.06" r="2.34"/><circle cx="554" cy="393.94" r="2.34"/><circle cx="554" cy="395.5" r="2.57"/></g><circle cx="554" cy="395.5" r="1.56" fill="none" stroke="#a0a018" stroke-width="0.5" opacity="0.7"/><circle cx="554" cy="395.5" r="1.01" fill="#f8f88c"/><circle cx="524.1" cy="345.8" r="4.1" fill="url(#gO)"/><circle cx="544.1" cy="345.8" r="4.1" fill="url(#gO)"/><circle cx="504" cy="365.8" r="4.1" fill="url(#gO)"/><circle cx="524" cy="365.8" r="4.1" fill="url(#gO)"/><circle cx="543.8" cy="365.8" r="4.1" fill="url(#gO)"/><circle cx="563.9" cy="365.8" r="4.1" fill="url(#gO)"/><circle cx="503.6" cy="385.8" r="4.1" fill="url(#gO)"/><circle cx="524" cy="385.8" r="4.1" fill="url(#gO)"/><circle cx="543.8" cy="385.8" r="4.1" fill="url(#gO)"/><circle cx="563.9" cy="385.8" r="4.1" fill="url(#gO)"/><circle cx="523.9" cy="405.7" r="4.1" fill="url(#gO)"/><circle cx="543.9" cy="405.7" r="4.1" fill="url(#gO)"/><path d="M509.2 399.2L553.05 356.76" stroke="#000" stroke-width="2.2"/><path d="M558.8 351.2L553.68 361.72L552.87 356.94L548.11 355.98Z" fill="#000"/><text x="502.5" y="412.6" font-size="13" font-weight="bold" font-style="italic">q</text><path d="M501 343.8L507.62 349.53" stroke="#000" stroke-width="1.3" stroke-dasharray="2.4,2"/><path d="M511.4 352.8L504.69 350.63L507.71 349.61L508.28 346.47Z" fill="#000"/><path d="M585.5 361.6L562.02 371.29" stroke="#000" stroke-width="1.3" stroke-dasharray="2.4,2"/><path d="M557.4 373.2L562.36 368.18L561.91 371.34L564.46 373.26Z" fill="#000"/><text x="486" y="342" font-size="12.6">0.79 <tspan font-family="Liberation Serif" font-style="italic" font-size="13.5">μ</tspan><tspan font-size="9" dy="2">B</tspan></text><text x="572" y="360.3" font-size="12.6">1.47 <tspan font-family="Liberation Serif" font-style="italic" font-size="13.5">μ</tspan><tspan font-size="9" dy="2">B</tspan></text>
<g clip-path="url(#clipa)"><polyline points="57.9,-1500 60.3,-200 62.9,154.8 65.7,207.7 67.8,226.1 71.1,237.3 73.8,239.9 76.4,237.6 79.1,233.6 81.7,229.8 84.3,224.5 87,216.4 89.6,197.7 92.3,188.8 94.9,181.7 97.6,175.4 100.2,171.5 102.9,170.5 105.5,171.8 108.2,175.7 110.8,180.8 113.4,182.5 116.1,182.3 118.7,178.2 121.4,170.8 124,164.8 126.7,160.7 129.3,159.4 132,159.6 134.6,162.2 137.2,166.8 139.9,174.6 142.5,183.4 145.2,189.2 147.8,192.6 150.5,195.2 153.1,197.3 155.8,199.2 158.4,200.9 161.1,202.6 163.7,204.7 166.3,206 169,206.6 171.6,207.8 174.3,209.6 176.9,210.9 179.6,211.9 182.2,212.7 184.9,213.2 187.5,213.2 190.2,213.2 192.8,213.2 195.4,213.2 198.1,213.2 200.7,213 203.4,212.8 206,212.6 208.7,212.2 211.3,211.5 214,210.6 216.6,209.1 219.2,207.2 221.9,205.4 224.5,203.6 227.2,202 229.8,200.4 232.5,198.8 235.1,197.3 237.8,195.8 240.4,194.3 243.1,192.8 245.7,191.4 248.3,189.5 251.3,181" fill="none" stroke="#66cc55" stroke-width="1"/></g>
<g fill="none" stroke="#66cc55" stroke-width="1.25"><circle cx="62.9" cy="154.8" r="3.2"/><circle cx="65.7" cy="207.7" r="3.2"/><circle cx="67.8" cy="226.1" r="3.2"/><circle cx="71.1" cy="237.3" r="3.2"/><circle cx="73.8" cy="239.9" r="3.2"/><circle cx="76.4" cy="237.6" r="3.2"/><circle cx="79.1" cy="233.6" r="3.2"/><circle cx="81.7" cy="229.8" r="3.2"/><circle cx="84.3" cy="224.5" r="3.2"/><circle cx="87" cy="216.4" r="3.2"/><circle cx="89.6" cy="197.7" r="3.2"/><circle cx="92.3" cy="188.8" r="3.2"/><circle cx="94.9" cy="181.7" r="3.2"/><circle cx="97.6" cy="175.4" r="3.2"/><circle cx="100.2" cy="171.5" r="3.2"/><circle cx="102.9" cy="170.5" r="3.2"/><circle cx="105.5" cy="171.8" r="3.2"/><circle cx="108.2" cy="175.7" r="3.2"/><circle cx="110.8" cy="180.8" r="3.2"/><circle cx="113.4" cy="182.5" r="3.2"/><circle cx="116.1" cy="182.3" r="3.2"/><circle cx="118.7" cy="178.2" r="3.2"/><circle cx="121.4" cy="170.8" r="3.2"/><circle cx="124" cy="164.8" r="3.2"/><circle cx="126.7" cy="160.7" r="3.2"/><circle cx="129.3" cy="159.4" r="3.2"/><circle cx="132" cy="159.6" r="3.2"/><circle cx="134.6" cy="162.2" r="3.2"/><circle cx="137.2" cy="166.8" r="3.2"/><circle cx="139.9" cy="174.6" r="3.2"/><circle cx="142.5" cy="183.4" r="3.2"/><circle cx="145.2" cy="189.2" r="3.2"/><circle cx="147.8" cy="192.6" r="3.2"/><circle cx="150.5" cy="195.2" r="3.2"/><circle cx="153.1" cy="197.3" r="3.2"/><circle cx="155.8" cy="199.2" r="3.2"/><circle cx="158.4" cy="200.9" r="3.2"/><circle cx="161.1" cy="202.6" r="3.2"/><circle cx="163.7" cy="204.7" r="3.2"/><circle cx="166.3" cy="206" r="3.2"/><circle cx="169" cy="206.6" r="3.2"/><circle cx="171.6" cy="207.8" r="3.2"/><circle cx="174.3" cy="209.6" r="3.2"/><circle cx="176.9" cy="210.9" r="3.2"/><circle cx="179.6" cy="211.9" r="3.2"/><circle cx="182.2" cy="212.7" r="3.2"/><circle cx="184.9" cy="213.2" r="3.2"/><circle cx="187.5" cy="213.2" r="3.2"/><circle cx="190.2" cy="213.2" r="3.2"/><circle cx="192.8" cy="213.2" r="3.2"/><circle cx="195.4" cy="213.2" r="3.2"/><circle cx="198.1" cy="213.2" r="3.2"/><circle cx="200.7" cy="213" r="3.2"/><circle cx="203.4" cy="212.8" r="3.2"/><circle cx="206" cy="212.6" r="3.2"/><circle cx="208.7" cy="212.2" r="3.2"/><circle cx="211.3" cy="211.5" r="3.2"/><circle cx="214" cy="210.6" r="3.2"/><circle cx="216.6" cy="209.1" r="3.2"/><circle cx="219.2" cy="207.2" r="3.2"/><circle cx="221.9" cy="205.4" r="3.2"/><circle cx="224.5" cy="203.6" r="3.2"/><circle cx="227.2" cy="202" r="3.2"/><circle cx="229.8" cy="200.4" r="3.2"/><circle cx="232.5" cy="198.8" r="3.2"/><circle cx="235.1" cy="197.3" r="3.2"/><circle cx="237.8" cy="195.8" r="3.2"/><circle cx="240.4" cy="194.3" r="3.2"/><circle cx="243.1" cy="192.8" r="3.2"/><circle cx="245.7" cy="191.4" r="3.2"/><circle cx="248.3" cy="189.5" r="3.2"/><circle cx="251.3" cy="181" r="3.2"/></g>
<g clip-path="url(#clipa)"><polyline points="58,234.8 60.6,255.2 63.2,254.5 65.8,252.9 68.5,250.9 71.1,248.4 73.8,244.9 76.4,240.2 79.1,233.2 81.7,216.6 83.8,202.1 86.1,179.9 88.9,154.9 90.8,130.7 93.8,107.5 96.4,84.8 99,57 101.8,23 104.4,-15 107,-45 109.6,-62 112.2,-68 114.8,-60 117.4,-40 119.8,-12 122.1,17.9 124.9,68.9 127.4,100.9 129.9,120.8 132.3,133.6 134.8,140 137.4,142 140.4,142.2 143,140 145.6,135.9 147.9,132.5 150.7,128.7 153.2,128.2 156,133 158.4,142 160.7,153.3 163.3,165.1 165.8,176.8 168.6,188.1 171.5,195.7 174.3,199.2 176.9,202.3 179.6,202.9 182.2,202.5 184.9,201.3 187.5,200 190.2,198.2 192.8,194.8 195.4,190.6 198.1,186.5 200.7,182.4 203.4,178.7 206,175.5 208.7,173.7 211.3,172.6 214,172.2 216.6,172 219.2,172.7 221.9,174.4 224.5,176.8 227.2,179.2 229.8,181 232.5,182.3 235.1,183.1 237.8,183.5 240.4,183.5 243.1,183.1 245.7,182 248.3,180.1 251.1,177.8" fill="none" stroke="#3c4f9b" stroke-width="1"/></g>
<g fill="none" stroke="#3c4f9b" stroke-width="1.1"><rect x="54.7" y="231.5" width="6.6" height="6.6"/><rect x="57.3" y="251.9" width="6.6" height="6.6"/><rect x="59.9" y="251.2" width="6.6" height="6.6"/><rect x="62.5" y="249.6" width="6.6" height="6.6"/><rect x="65.2" y="247.6" width="6.6" height="6.6"/><rect x="67.8" y="245.1" width="6.6" height="6.6"/><rect x="70.5" y="241.6" width="6.6" height="6.6"/><rect x="73.1" y="236.9" width="6.6" height="6.6"/><rect x="75.8" y="229.9" width="6.6" height="6.6"/><rect x="78.4" y="213.3" width="6.6" height="6.6"/><rect x="80.5" y="198.8" width="6.6" height="6.6"/><rect x="82.8" y="176.6" width="6.6" height="6.6"/><rect x="85.6" y="151.6" width="6.6" height="6.6"/><rect x="87.5" y="127.4" width="6.6" height="6.6"/><rect x="90.5" y="104.2" width="6.6" height="6.6"/><rect x="93.1" y="81.5" width="6.6" height="6.6"/><rect x="95.7" y="53.7" width="6.6" height="6.6"/><rect x="98.5" y="19.7" width="6.6" height="6.6"/><rect x="118.8" y="14.6" width="6.6" height="6.6"/><rect x="121.6" y="65.6" width="6.6" height="6.6"/><rect x="124.1" y="97.6" width="6.6" height="6.6"/><rect x="126.6" y="117.5" width="6.6" height="6.6"/><rect x="129" y="130.3" width="6.6" height="6.6"/><rect x="131.5" y="136.7" width="6.6" height="6.6"/><rect x="134.1" y="138.7" width="6.6" height="6.6"/><rect x="137.1" y="138.9" width="6.6" height="6.6"/><rect x="139.7" y="136.7" width="6.6" height="6.6"/><rect x="142.3" y="132.6" width="6.6" height="6.6"/><rect x="144.6" y="129.2" width="6.6" height="6.6"/><rect x="147.4" y="125.4" width="6.6" height="6.6"/><rect x="149.9" y="124.9" width="6.6" height="6.6"/><rect x="152.7" y="129.7" width="6.6" height="6.6"/><rect x="155.1" y="138.7" width="6.6" height="6.6"/><rect x="157.4" y="150" width="6.6" height="6.6"/><rect x="160" y="161.8" width="6.6" height="6.6"/><rect x="162.5" y="173.5" width="6.6" height="6.6"/><rect x="165.3" y="184.8" width="6.6" height="6.6"/><rect x="168.2" y="192.4" width="6.6" height="6.6"/><rect x="171" y="195.9" width="6.6" height="6.6"/><rect x="173.6" y="199" width="6.6" height="6.6"/><rect x="176.3" y="199.6" width="6.6" height="6.6"/><rect x="178.9" y="199.2" width="6.6" height="6.6"/><rect x="181.6" y="198" width="6.6" height="6.6"/><rect x="184.2" y="196.7" width="6.6" height="6.6"/><rect x="186.8" y="194.9" width="6.6" height="6.6"/><rect x="189.5" y="191.5" width="6.6" height="6.6"/><rect x="192.1" y="187.3" width="6.6" height="6.6"/><rect x="194.8" y="183.2" width="6.6" height="6.6"/><rect x="197.4" y="179.1" width="6.6" height="6.6"/><rect x="200.1" y="175.4" width="6.6" height="6.6"/><rect x="202.7" y="172.2" width="6.6" height="6.6"/><rect x="205.4" y="170.4" width="6.6" height="6.6"/><rect x="208" y="169.3" width="6.6" height="6.6"/><rect x="210.7" y="168.9" width="6.6" height="6.6"/><rect x="213.3" y="168.7" width="6.6" height="6.6"/><rect x="215.9" y="169.4" width="6.6" height="6.6"/><rect x="218.6" y="171.1" width="6.6" height="6.6"/><rect x="221.2" y="173.5" width="6.6" height="6.6"/><rect x="223.9" y="175.9" width="6.6" height="6.6"/><rect x="226.5" y="177.7" width="6.6" height="6.6"/><rect x="229.2" y="179" width="6.6" height="6.6"/><rect x="231.8" y="179.8" width="6.6" height="6.6"/><rect x="234.5" y="180.2" width="6.6" height="6.6"/><rect x="237.1" y="180.2" width="6.6" height="6.6"/><rect x="239.8" y="179.8" width="6.6" height="6.6"/><rect x="242.4" y="178.7" width="6.6" height="6.6"/><rect x="245" y="176.8" width="6.6" height="6.6"/><rect x="247.8" y="174.5" width="6.6" height="6.6"/></g>
<polyline points="58.1,142.1 58.2,146.9 58.3,152.2 58.4,158.1 58.5,164.6 58.6,172 58.7,179.7 58.8,187.7 58.8,196.5 58.9,204.7 59,210.7 59.1,215.3 59.2,219.3 59.3,222.5 59.4,225 59.5,227 59.6,228.8 59.7,230.2 59.8,231.3 59.9,232 60,232.5 60.1,233 60.2,233.4 60.3,233.7 60.3,234.1 60.4,234.3 60.5,234.6 60.6,234.8 60.7,235 60.8,235.1 61.1,235.5 62,236.5 63,237.2 64,237.6 64.9,238 65.9,237.9 66.9,237.3 67.9,236.4 68.8,235.7 69.8,235.2 70.8,234.7 71.8,234.1 72.7,232.6 73.7,230.9 74.7,230.1 75.6,229.5 76.6,229 77.6,228.6 78.6,228.2 79.5,227.8 80.5,226.9 81.5,225.5 82.4,223.8 83.4,221.8 84.4,219.6 85.4,217.4 86.3,215.1 87.3,212.8 88.3,210.3 89.2,207.6 90.2,204.6 91.2,201.6 92.2,198.8 93.1,196 94.1,193.3 95.1,190.9 96.1,189 97,187.3 98,185.9 99,184.8 99.9,184 100.9,183.5 101.9,183 102.9,182.7 103.8,182.3 104.8,181.8 105.8,181.3 106.7,180.9 107.7,180.4 108.7,179.9 109.7,179.4 110.6,178.8 111.6,178.2 112.6,177.7 113.5,177.3 114.5,177.2 115.5,177.2 116.5,177.5 117.4,177.8 118.4,178.2 119.4,178.7 120.4,179.2 121.3,179.7 122.3,180.3 123.3,180.9 124.2,181.6 125.2,182.3 126.2,183 127.2,183.7 128.1,184.4 129.1,185.1 130.1,185.8 131,186.5 132,187.2 133,187.9 134,188.6 134.9,189.3 135.9,189.9 136.9,190.6 137.8,191.2 138.8,191.9 139.8,192.5 140.8,193.1 141.7,193.8 142.7,194.5 143.7,195.1 144.7,195.8 145.6,196.4 146.6,197 147.6,197.5 148.5,198 149.5,198.4 150.5,198.8 151.5,199.1 152.4,199.5 153.4,199.8 154.4,200.1 155.3,200.3 156.3,200.6 157.3,200.8 158.3,201 159.2,201.2 160.2,201.3 161.2,201.5 162.1,201.7 163.1,201.8 164.1,202 165.1,202.1 166,202.3 167,202.4 168,202.5 169,202.7 169.9,202.8 170.9,202.9 171.9,203 172.8,203.2 173.8,203.3 174.8,203.4 175.8,203.6 176.7,203.8 177.7,204 178.7,204.3 179.6,204.5 180.6,204.7 181.6,204.8 182.6,204.8 183.5,204.8 184.5,204.7 185.5,204.6 186.4,204.4 187.4,204.3 188.4,204.1 189.4,203.9 190.3,203.7 191.3,203.5 192.3,203.2 193.3,202.9 194.2,202.5 195.2,202.2 196.2,201.8 197.1,201.6 198.1,201.3 199.1,201 200.1,200.8 201,200.5 202,200.2 203,200 203.9,199.7 204.9,199.5 205.9,199.3 206.9,199.1 207.1,199" fill="none" stroke="#000" stroke-width="2" stroke-linejoin="round"/>
<g clip-path="url(#clipb)"><polyline points="271.2,-580 273.8,82.4 276.5,209 279.1,233 281.8,242.3 284.4,244.5 287.1,243.4 289.7,241.5 292.4,239 295,236.1 297.6,232.7 300.3,229.4 302.9,226.1 305.6,222.9 308.2,218.8 310.9,214.7 313.5,210.9 316.2,207.7 318.8,204.1 321.5,201.6 324.1,201.2 326.7,204.1 329.4,208.8 332,215 334.7,219.4 337.3,222.2 340,223.9 342.6,224.5 345.3,224.5 347.9,224.5 350.5,223.4 353.2,221.6 355.8,220 358.5,218.3 361.1,216.4 363.8,214.3 366.4,212.3 369.1,210.3 371.7,208.4 374.4,206.5 377,204.1 379.6,201.3 382.3,198.7 384.9,196.1 387.6,193.1 390.2,189.6 392.9,186.2 395.5,183.4 398.2,181.7 400.8,181.7 403.4,183.4 406.1,185.8 408.7,188.9 411.4,192.5 414,195.2 416.7,196.8 419.3,198 422,199.4 424.6,201.1 427.3,202.2 429.9,202.1 432.5,201.5 435.2,200.6 437.8,198.8 440.5,197.4 443.1,196.4 445.8,195.9 448.4,196.1 451.1,196.4 453.7,196.3 456.4,195.6 459,194.8 461.6,193.4 464.3,191.5" fill="none" stroke="#66cc55" stroke-width="1"/></g>
<g fill="none" stroke="#66cc55" stroke-width="1.25"><circle cx="273.8" cy="82.4" r="3.2"/><circle cx="276.5" cy="209" r="3.2"/><circle cx="279.1" cy="233" r="3.2"/><circle cx="281.8" cy="242.3" r="3.2"/><circle cx="284.4" cy="244.5" r="3.2"/><circle cx="287.1" cy="243.4" r="3.2"/><circle cx="289.7" cy="241.5" r="3.2"/><circle cx="292.4" cy="239" r="3.2"/><circle cx="295" cy="236.1" r="3.2"/><circle cx="297.6" cy="232.7" r="3.2"/><circle cx="300.3" cy="229.4" r="3.2"/><circle cx="302.9" cy="226.1" r="3.2"/><circle cx="305.6" cy="222.9" r="3.2"/><circle cx="308.2" cy="218.8" r="3.2"/><circle cx="310.9" cy="214.7" r="3.2"/><circle cx="313.5" cy="210.9" r="3.2"/><circle cx="316.2" cy="207.7" r="3.2"/><circle cx="318.8" cy="204.1" r="3.2"/><circle cx="321.5" cy="201.6" r="3.2"/><circle cx="324.1" cy="201.2" r="3.2"/><circle cx="326.7" cy="204.1" r="3.2"/><circle cx="329.4" cy="208.8" r="3.2"/><circle cx="332" cy="215" r="3.2"/><circle cx="334.7" cy="219.4" r="3.2"/><circle cx="337.3" cy="222.2" r="3.2"/><circle cx="340" cy="223.9" r="3.2"/><circle cx="342.6" cy="224.5" r="3.2"/><circle cx="345.3" cy="224.5" r="3.2"/><circle cx="347.9" cy="224.5" r="3.2"/><circle cx="350.5" cy="223.4" r="3.2"/><circle cx="353.2" cy="221.6" r="3.2"/><circle cx="355.8" cy="220" r="3.2"/><circle cx="358.5" cy="218.3" r="3.2"/><circle cx="361.1" cy="216.4" r="3.2"/><circle cx="363.8" cy="214.3" r="3.2"/><circle cx="366.4" cy="212.3" r="3.2"/><circle cx="369.1" cy="210.3" r="3.2"/><circle cx="371.7" cy="208.4" r="3.2"/><circle cx="374.4" cy="206.5" r="3.2"/><circle cx="377" cy="204.1" r="3.2"/><circle cx="379.6" cy="201.3" r="3.2"/><circle cx="382.3" cy="198.7" r="3.2"/><circle cx="384.9" cy="196.1" r="3.2"/><circle cx="387.6" cy="193.1" r="3.2"/><circle cx="390.2" cy="189.6" r="3.2"/><circle cx="392.9" cy="186.2" r="3.2"/><circle cx="395.5" cy="183.4" r="3.2"/><circle cx="398.2" cy="181.7" r="3.2"/><circle cx="400.8" cy="181.7" r="3.2"/><circle cx="403.4" cy="183.4" r="3.2"/><circle cx="406.1" cy="185.8" r="3.2"/><circle cx="408.7" cy="188.9" r="3.2"/><circle cx="411.4" cy="192.5" r="3.2"/><circle cx="414" cy="195.2" r="3.2"/><circle cx="416.7" cy="196.8" r="3.2"/><circle cx="419.3" cy="198" r="3.2"/><circle cx="422" cy="199.4" r="3.2"/><circle cx="424.6" cy="201.1" r="3.2"/><circle cx="427.3" cy="202.2" r="3.2"/><circle cx="429.9" cy="202.1" r="3.2"/><circle cx="432.5" cy="201.5" r="3.2"/><circle cx="435.2" cy="200.6" r="3.2"/><circle cx="437.8" cy="198.8" r="3.2"/><circle cx="440.5" cy="197.4" r="3.2"/><circle cx="443.1" cy="196.4" r="3.2"/><circle cx="445.8" cy="195.9" r="3.2"/><circle cx="448.4" cy="196.1" r="3.2"/><circle cx="451.1" cy="196.4" r="3.2"/><circle cx="453.7" cy="196.3" r="3.2"/><circle cx="456.4" cy="195.6" r="3.2"/><circle cx="459" cy="194.8" r="3.2"/><circle cx="461.6" cy="193.4" r="3.2"/><circle cx="464.3" cy="191.5" r="3.2"/></g>
<g clip-path="url(#clipb)"><polyline points="271.2,202.8 273.8,254.6 276.5,254.2 279.1,252.6 281.8,251 284.4,247.4 287.1,243.2 289.7,238.8 292.4,231.6 295,224.4 297.6,217.8 300.3,214.6 302.9,216.8 305.6,223.2 308.2,230.3 310.9,236.6 313.5,240.3 316.2,243.2 318.8,245.5 321.5,247 324.1,248 326.7,248.7 329.4,248.7 332,248.3 334.7,247.1 337.3,244.8 340,242.4 342.6,239.6 345.3,236.4 347.9,233.3 350.5,230.3 353.2,227.4 355.8,224.2 358.5,220.3 361.1,216.6 363.8,213.6 366.4,213.5 369.1,213.5 371.7,213.8 374.4,213.9 377,211.4 379.6,202.8 382.3,195.9 384.9,188.4 387.6,179.7 390.2,173.2 392.9,168.2 395.5,164.3 398.2,162.8 400.8,162.2 403.4,162 406.1,162.4 408.7,163.9 411.4,167.8 414,172.9 416.7,178.2 419.3,182.8 422,184 424.6,184.4 427.3,184.3 429.9,184.1 432.5,183 435.2,180.9 437.8,178.5 440.5,175.2 443.1,169.5 445.8,163.9 448.4,157.5 451.1,150 453.7,143.5 456.4,137.7 459,135.1 461.6,134.6 464.3,135.5" fill="none" stroke="#3c4f9b" stroke-width="1"/></g>
<g fill="none" stroke="#3c4f9b" stroke-width="1.1"><rect x="267.9" y="199.5" width="6.6" height="6.6"/><rect x="270.5" y="251.3" width="6.6" height="6.6"/><rect x="273.2" y="250.9" width="6.6" height="6.6"/><rect x="275.8" y="249.3" width="6.6" height="6.6"/><rect x="278.5" y="247.7" width="6.6" height="6.6"/><rect x="281.1" y="244.1" width="6.6" height="6.6"/><rect x="283.8" y="239.9" width="6.6" height="6.6"/><rect x="286.4" y="235.5" width="6.6" height="6.6"/><rect x="289.1" y="228.3" width="6.6" height="6.6"/><rect x="291.7" y="221.1" width="6.6" height="6.6"/><rect x="294.3" y="214.5" width="6.6" height="6.6"/><rect x="297" y="211.3" width="6.6" height="6.6"/><rect x="299.6" y="213.5" width="6.6" height="6.6"/><rect x="302.3" y="219.9" width="6.6" height="6.6"/><rect x="304.9" y="227" width="6.6" height="6.6"/><rect x="307.6" y="233.3" width="6.6" height="6.6"/><rect x="310.2" y="237" width="6.6" height="6.6"/><rect x="312.9" y="239.9" width="6.6" height="6.6"/><rect x="315.5" y="242.2" width="6.6" height="6.6"/><rect x="318.2" y="243.7" width="6.6" height="6.6"/><rect x="320.8" y="244.7" width="6.6" height="6.6"/><rect x="323.4" y="245.4" width="6.6" height="6.6"/><rect x="326.1" y="245.4" width="6.6" height="6.6"/><rect x="328.7" y="245" width="6.6" height="6.6"/><rect x="331.4" y="243.8" width="6.6" height="6.6"/><rect x="334" y="241.5" width="6.6" height="6.6"/><rect x="336.7" y="239.1" width="6.6" height="6.6"/><rect x="339.3" y="236.3" width="6.6" height="6.6"/><rect x="342" y="233.1" width="6.6" height="6.6"/><rect x="344.6" y="230" width="6.6" height="6.6"/><rect x="347.2" y="227" width="6.6" height="6.6"/><rect x="349.9" y="224.1" width="6.6" height="6.6"/><rect x="352.5" y="220.9" width="6.6" height="6.6"/><rect x="355.2" y="217" width="6.6" height="6.6"/><rect x="357.8" y="213.3" width="6.6" height="6.6"/><rect x="360.5" y="210.3" width="6.6" height="6.6"/><rect x="363.1" y="210.2" width="6.6" height="6.6"/><rect x="365.8" y="210.2" width="6.6" height="6.6"/><rect x="368.4" y="210.5" width="6.6" height="6.6"/><rect x="371.1" y="210.6" width="6.6" height="6.6"/><rect x="373.7" y="208.1" width="6.6" height="6.6"/><rect x="376.3" y="199.5" width="6.6" height="6.6"/><rect x="379" y="192.6" width="6.6" height="6.6"/><rect x="381.6" y="185.1" width="6.6" height="6.6"/><rect x="384.3" y="176.4" width="6.6" height="6.6"/><rect x="386.9" y="169.9" width="6.6" height="6.6"/><rect x="389.6" y="164.9" width="6.6" height="6.6"/><rect x="392.2" y="161" width="6.6" height="6.6"/><rect x="394.9" y="159.5" width="6.6" height="6.6"/><rect x="397.5" y="158.9" width="6.6" height="6.6"/><rect x="400.1" y="158.7" width="6.6" height="6.6"/><rect x="402.8" y="159.1" width="6.6" height="6.6"/><rect x="405.4" y="160.6" width="6.6" height="6.6"/><rect x="408.1" y="164.5" width="6.6" height="6.6"/><rect x="410.7" y="169.6" width="6.6" height="6.6"/><rect x="413.4" y="174.9" width="6.6" height="6.6"/><rect x="416" y="179.5" width="6.6" height="6.6"/><rect x="418.7" y="180.7" width="6.6" height="6.6"/><rect x="421.3" y="181.1" width="6.6" height="6.6"/><rect x="424" y="181" width="6.6" height="6.6"/><rect x="426.6" y="180.8" width="6.6" height="6.6"/><rect x="429.2" y="179.7" width="6.6" height="6.6"/><rect x="431.9" y="177.6" width="6.6" height="6.6"/><rect x="434.5" y="175.2" width="6.6" height="6.6"/><rect x="437.2" y="171.9" width="6.6" height="6.6"/><rect x="439.8" y="166.2" width="6.6" height="6.6"/><rect x="442.5" y="160.6" width="6.6" height="6.6"/><rect x="445.1" y="154.2" width="6.6" height="6.6"/><rect x="447.8" y="146.7" width="6.6" height="6.6"/><rect x="450.4" y="140.2" width="6.6" height="6.6"/><rect x="453.1" y="134.4" width="6.6" height="6.6"/><rect x="455.7" y="131.8" width="6.6" height="6.6"/><rect x="458.3" y="131.3" width="6.6" height="6.6"/><rect x="461" y="132.2" width="6.6" height="6.6"/></g>
<polyline points="271.4,142.1 271.5,146.9 271.6,152.2 271.7,158.1 271.8,164.6 271.9,172 272,179.7 272.1,187.7 272.1,196.5 272.2,204.7 272.3,210.7 272.4,215.3 272.5,219.3 272.6,222.5 272.7,225 272.8,227 272.9,228.8 273,230.2 273.1,231.3 273.2,232 273.3,232.5 273.4,233 273.5,233.4 273.6,233.7 273.6,234.1 273.7,234.3 273.8,234.6 273.9,234.8 274,235 274.1,235.1 274.4,235.5 275.3,236.5 276.3,237.2 277.3,237.6 278.2,238 279.2,237.9 280.2,237.3 281.2,236.4 282.1,235.7 283.1,235.2 284.1,234.7 285.1,234.1 286,232.6 287,230.9 288,230.1 288.9,229.5 289.9,229 290.9,228.6 291.9,228.2 292.8,227.8 293.8,226.9 294.8,225.5 295.7,223.8 296.7,221.8 297.7,219.6 298.7,217.4 299.6,215.1 300.6,212.8 301.6,210.3 302.5,207.6 303.5,204.6 304.5,201.6 305.5,198.8 306.4,196 307.4,193.3 308.4,190.9 309.4,189 310.3,187.3 311.3,185.9 312.3,184.8 313.2,184 314.2,183.5 315.2,183 316.2,182.7 317.1,182.3 318.1,181.8 319.1,181.3 320,180.9 321,180.4 322,179.9 323,179.4 323.9,178.8 324.9,178.2 325.9,177.7 326.8,177.3 327.8,177.2 328.8,177.2 329.8,177.5 330.7,177.8 331.7,178.2 332.7,178.7 333.7,179.2 334.6,179.7 335.6,180.3 336.6,180.9 337.5,181.6 338.5,182.3 339.5,183 340.5,183.7 341.4,184.4 342.4,185.1 343.4,185.8 344.3,186.5 345.3,187.2 346.3,187.9 347.3,188.6 348.2,189.3 349.2,189.9 350.2,190.6 351.1,191.2 352.1,191.9 353.1,192.5 354.1,193.1 355,193.8 356,194.5 357,195.1 358,195.8 358.9,196.4 359.9,197 360.9,197.5 361.8,198 362.8,198.4 363.8,198.8 364.8,199.1 365.7,199.5 366.7,199.8 367.7,200.1 368.6,200.3 369.6,200.6 370.6,200.8 371.6,201 372.5,201.2 373.5,201.3 374.5,201.5 375.4,201.7 376.4,201.8 377.4,202 378.4,202.1 379.3,202.3 380.3,202.4 381.3,202.5 382.3,202.7 383.2,202.8 384.2,202.9 385.2,203 386.1,203.2 387.1,203.3 388.1,203.4 389.1,203.6 390,203.8 391,204 392,204.3 392.9,204.5 393.9,204.7 394.9,204.8 395.9,204.8 396.8,204.8 397.8,204.7 398.8,204.6 399.7,204.4 400.7,204.3 401.7,204.1 402.7,203.9 403.6,203.7 404.6,203.5 405.6,203.2 406.6,202.9 407.5,202.5 408.5,202.2 409.5,201.8 410.4,201.6 411.4,201.3 412.4,201 413.4,200.8 414.3,200.5 415.3,200.2 416.3,200 417.2,199.7 418.2,199.5 419.2,199.3 420.2,199.1 420.4,199" fill="none" stroke="#000" stroke-width="2" stroke-linejoin="round"/>
<g clip-path="url(#clipc)"><polyline points="484.2,-600 486.8,89 489.5,212 492.1,234.5 494.8,243.9 497.4,247.9 500.1,250 502.7,250.6 505.4,250.8 508,249.5 510.6,246.5 513.3,243 515.9,240.1 518.6,237.6 521.2,235.2 523.9,232.9 526.5,231.1 529.2,229.9 531.8,228.9 534.5,227.8 537.1,226.5 539.7,225.2 542.4,223.7 545,222 547.7,220.2 550.3,218.4 553,216.4 555.6,214.3 558.3,212.5 560.9,210.9 563.5,209.4 566.2,208.7 568.8,208.5 571.5,208.3 574.1,208 576.8,207.7 579.4,207 582.1,202.9 584.7,197.9 587.4,191.6 590,184.2 592.6,177.8 595.3,172.6 597.9,168.1 600.6,164.2 603.2,162.2 605.9,161.9 608.5,162.8 611.2,164.5 613.8,166.1 616.5,167.6 619.1,169.2 621.7,170.7 624.4,172.2 627,173.9 629.7,175.4 632.3,176.1 635,176.6 637.6,176.8 640.3,176.4 642.9,175.8 645.5,175.7 648.2,176.1 650.8,176.7 653.5,177.6 656.1,179.2 658.8,180.5 661.4,181.3 664.1,182 666.7,182 669.4,180.9 672,179.4 674.6,177.3 677.3,174.8" fill="none" stroke="#66cc55" stroke-width="1"/></g>
<g fill="none" stroke="#66cc55" stroke-width="1.25"><circle cx="486.8" cy="89" r="3.2"/><circle cx="489.5" cy="212" r="3.2"/><circle cx="492.1" cy="234.5" r="3.2"/><circle cx="494.8" cy="243.9" r="3.2"/><circle cx="497.4" cy="247.9" r="3.2"/><circle cx="500.1" cy="250" r="3.2"/><circle cx="502.7" cy="250.6" r="3.2"/><circle cx="505.4" cy="250.8" r="3.2"/><circle cx="508" cy="249.5" r="3.2"/><circle cx="510.6" cy="246.5" r="3.2"/><circle cx="513.3" cy="243" r="3.2"/><circle cx="515.9" cy="240.1" r="3.2"/><circle cx="518.6" cy="237.6" r="3.2"/><circle cx="521.2" cy="235.2" r="3.2"/><circle cx="523.9" cy="232.9" r="3.2"/><circle cx="526.5" cy="231.1" r="3.2"/><circle cx="529.2" cy="229.9" r="3.2"/><circle cx="531.8" cy="228.9" r="3.2"/><circle cx="534.5" cy="227.8" r="3.2"/><circle cx="537.1" cy="226.5" r="3.2"/><circle cx="539.7" cy="225.2" r="3.2"/><circle cx="542.4" cy="223.7" r="3.2"/><circle cx="545" cy="222" r="3.2"/><circle cx="547.7" cy="220.2" r="3.2"/><circle cx="550.3" cy="218.4" r="3.2"/><circle cx="553" cy="216.4" r="3.2"/><circle cx="555.6" cy="214.3" r="3.2"/><circle cx="558.3" cy="212.5" r="3.2"/><circle cx="560.9" cy="210.9" r="3.2"/><circle cx="563.5" cy="209.4" r="3.2"/><circle cx="566.2" cy="208.7" r="3.2"/><circle cx="568.8" cy="208.5" r="3.2"/><circle cx="571.5" cy="208.3" r="3.2"/><circle cx="574.1" cy="208" r="3.2"/><circle cx="576.8" cy="207.7" r="3.2"/><circle cx="579.4" cy="207" r="3.2"/><circle cx="582.1" cy="202.9" r="3.2"/><circle cx="584.7" cy="197.9" r="3.2"/><circle cx="587.4" cy="191.6" r="3.2"/><circle cx="590" cy="184.2" r="3.2"/><circle cx="592.6" cy="177.8" r="3.2"/><circle cx="595.3" cy="172.6" r="3.2"/><circle cx="597.9" cy="168.1" r="3.2"/><circle cx="600.6" cy="164.2" r="3.2"/><circle cx="603.2" cy="162.2" r="3.2"/><circle cx="605.9" cy="161.9" r="3.2"/><circle cx="608.5" cy="162.8" r="3.2"/><circle cx="611.2" cy="164.5" r="3.2"/><circle cx="613.8" cy="166.1" r="3.2"/><circle cx="616.5" cy="167.6" r="3.2"/><circle cx="619.1" cy="169.2" r="3.2"/><circle cx="621.7" cy="170.7" r="3.2"/><circle cx="624.4" cy="172.2" r="3.2"/><circle cx="627" cy="173.9" r="3.2"/><circle cx="629.7" cy="175.4" r="3.2"/><circle cx="632.3" cy="176.1" r="3.2"/><circle cx="635" cy="176.6" r="3.2"/><circle cx="637.6" cy="176.8" r="3.2"/><circle cx="640.3" cy="176.4" r="3.2"/><circle cx="642.9" cy="175.8" r="3.2"/><circle cx="645.5" cy="175.7" r="3.2"/><circle cx="648.2" cy="176.1" r="3.2"/><circle cx="650.8" cy="176.7" r="3.2"/><circle cx="653.5" cy="177.6" r="3.2"/><circle cx="656.1" cy="179.2" r="3.2"/><circle cx="658.8" cy="180.5" r="3.2"/><circle cx="661.4" cy="181.3" r="3.2"/><circle cx="664.1" cy="182" r="3.2"/><circle cx="666.7" cy="182" r="3.2"/><circle cx="669.4" cy="180.9" r="3.2"/><circle cx="672" cy="179.4" r="3.2"/><circle cx="674.6" cy="177.3" r="3.2"/><circle cx="677.3" cy="174.8" r="3.2"/></g>
<g clip-path="url(#clipc)"><polyline points="484.2,255.6 486.8,256.2 489.5,256.7 492.1,257.1 494.8,257.2 497.4,257.2 500.1,257.1 502.7,257.1 505.4,257 508,256.9 510.6,256.7 513.3,256.5 515.9,256.2 518.6,255.8 521.2,255.3 523.9,254.4 526.5,253.2 529.2,251.9 531.8,250.9 534.5,249.9 537.1,248.9 539.7,247.8 542.4,246.6 545,245.3 547.7,243.9 550.3,242.5 553,241.2 555.6,239.9 558.3,238.5 560.9,237.2 563.5,235.8 566.2,234.4 568.8,233.1 571.5,231.9 574.1,231 576.8,230.2 579.4,229 581.8,227.2 585.1,222.6 588.3,216.9 591.1,209.4 594,201 596.2,190.3 599,177.9 600.9,164 603.9,147.9 606.5,127.9 608.8,104.8 611.1,83.4 614.2,69.1 617.2,64.5 620.3,69.1 622.3,81.1 624.9,94.9 627.2,106.4 630,114.8 632.6,122.5 635.2,129.4 637.9,134.8 641,139.3 642.9,140.6 645.5,140.9 648.2,140.5 650.8,139.8 653.5,138.9 656.1,138.3 658.8,138 661.4,137.6 664.1,137.1 666.7,136.4 669.4,135.7 672,135 674.6,134.3 677.3,133.7" fill="none" stroke="#3c4f9b" stroke-width="1"/></g>
<g fill="none" stroke="#3c4f9b" stroke-width="1.1"><rect x="480.9" y="252.3" width="6.6" height="6.6"/><rect x="483.5" y="252.9" width="6.6" height="6.6"/><rect x="486.2" y="253.4" width="6.6" height="6.6"/><rect x="488.8" y="253.8" width="6.6" height="6.6"/><rect x="499.4" y="253.8" width="6.6" height="6.6"/><rect x="502.1" y="253.7" width="6.6" height="6.6"/><rect x="504.7" y="253.6" width="6.6" height="6.6"/><rect x="507.3" y="253.4" width="6.6" height="6.6"/><rect x="510" y="253.2" width="6.6" height="6.6"/><rect x="512.6" y="252.9" width="6.6" height="6.6"/><rect x="515.3" y="252.5" width="6.6" height="6.6"/><rect x="517.9" y="252" width="6.6" height="6.6"/><rect x="520.6" y="251.1" width="6.6" height="6.6"/><rect x="523.2" y="249.9" width="6.6" height="6.6"/><rect x="525.9" y="248.6" width="6.6" height="6.6"/><rect x="528.5" y="247.6" width="6.6" height="6.6"/><rect x="531.2" y="246.6" width="6.6" height="6.6"/><rect x="533.8" y="245.6" width="6.6" height="6.6"/><rect x="536.4" y="244.5" width="6.6" height="6.6"/><rect x="539.1" y="243.3" width="6.6" height="6.6"/><rect x="541.7" y="242" width="6.6" height="6.6"/><rect x="544.4" y="240.6" width="6.6" height="6.6"/><rect x="547" y="239.2" width="6.6" height="6.6"/><rect x="549.7" y="237.9" width="6.6" height="6.6"/><rect x="552.3" y="236.6" width="6.6" height="6.6"/><rect x="555" y="235.2" width="6.6" height="6.6"/><rect x="557.6" y="233.9" width="6.6" height="6.6"/><rect x="560.2" y="232.5" width="6.6" height="6.6"/><rect x="562.9" y="231.1" width="6.6" height="6.6"/><rect x="565.5" y="229.8" width="6.6" height="6.6"/><rect x="568.2" y="228.6" width="6.6" height="6.6"/><rect x="570.8" y="227.7" width="6.6" height="6.6"/><rect x="573.5" y="226.9" width="6.6" height="6.6"/><rect x="576.1" y="225.7" width="6.6" height="6.6"/><rect x="578.5" y="223.9" width="6.6" height="6.6"/><rect x="581.8" y="219.3" width="6.6" height="6.6"/><rect x="585" y="213.6" width="6.6" height="6.6"/><rect x="587.8" y="206.1" width="6.6" height="6.6"/><rect x="590.7" y="197.7" width="6.6" height="6.6"/><rect x="592.9" y="187" width="6.6" height="6.6"/><rect x="595.7" y="174.6" width="6.6" height="6.6"/><rect x="597.6" y="160.7" width="6.6" height="6.6"/><rect x="600.6" y="144.6" width="6.6" height="6.6"/><rect x="603.2" y="124.6" width="6.6" height="6.6"/><rect x="605.5" y="101.5" width="6.6" height="6.6"/><rect x="607.8" y="80.1" width="6.6" height="6.6"/><rect x="610.9" y="65.8" width="6.6" height="6.6"/><rect x="613.9" y="61.2" width="6.6" height="6.6"/><rect x="617" y="65.8" width="6.6" height="6.6"/><rect x="619" y="77.8" width="6.6" height="6.6"/><rect x="621.6" y="91.6" width="6.6" height="6.6"/><rect x="623.9" y="103.1" width="6.6" height="6.6"/><rect x="626.7" y="111.5" width="6.6" height="6.6"/><rect x="629.3" y="119.2" width="6.6" height="6.6"/><rect x="631.9" y="126.1" width="6.6" height="6.6"/><rect x="634.6" y="131.5" width="6.6" height="6.6"/><rect x="637.7" y="136" width="6.6" height="6.6"/><rect x="639.6" y="137.3" width="6.6" height="6.6"/><rect x="642.2" y="137.6" width="6.6" height="6.6"/><rect x="644.9" y="137.2" width="6.6" height="6.6"/><rect x="647.5" y="136.5" width="6.6" height="6.6"/><rect x="650.2" y="135.6" width="6.6" height="6.6"/><rect x="652.8" y="135" width="6.6" height="6.6"/><rect x="655.5" y="134.7" width="6.6" height="6.6"/><rect x="658.1" y="134.3" width="6.6" height="6.6"/><rect x="660.8" y="133.8" width="6.6" height="6.6"/><rect x="663.4" y="133.1" width="6.6" height="6.6"/><rect x="666.1" y="132.4" width="6.6" height="6.6"/><rect x="668.7" y="131.7" width="6.6" height="6.6"/><rect x="671.3" y="131" width="6.6" height="6.6"/><rect x="674" y="130.4" width="6.6" height="6.6"/></g>
<polyline points="484.4,142.1 484.5,146.9 484.6,152.2 484.7,158.1 484.8,164.6 484.9,172 485,179.7 485.1,187.7 485.1,196.5 485.2,204.7 485.3,210.7 485.4,215.3 485.5,219.3 485.6,222.5 485.7,225 485.8,227 485.9,228.8 486,230.2 486.1,231.3 486.2,232 486.3,232.5 486.4,233 486.5,233.4 486.6,233.7 486.6,234.1 486.7,234.3 486.8,234.6 486.9,234.8 487,235 487.1,235.1 487.4,235.5 488.3,236.5 489.3,237.2 490.3,237.6 491.2,238 492.2,237.9 493.2,237.3 494.2,236.4 495.1,235.7 496.1,235.2 497.1,234.7 498.1,234.1 499,232.6 500,230.9 501,230.1 501.9,229.5 502.9,229 503.9,228.6 504.9,228.2 505.8,227.8 506.8,226.9 507.8,225.5 508.7,223.8 509.7,221.8 510.7,219.6 511.7,217.4 512.6,215.1 513.6,212.8 514.6,210.3 515.5,207.6 516.5,204.6 517.5,201.6 518.5,198.8 519.4,196 520.4,193.3 521.4,190.9 522.4,189 523.3,187.3 524.3,185.9 525.3,184.8 526.2,184 527.2,183.5 528.2,183 529.2,182.7 530.1,182.3 531.1,181.8 532.1,181.3 533,180.9 534,180.4 535,179.9 536,179.4 536.9,178.8 537.9,178.2 538.9,177.7 539.8,177.3 540.8,177.2 541.8,177.2 542.8,177.5 543.7,177.8 544.7,178.2 545.7,178.7 546.7,179.2 547.6,179.7 548.6,180.3 549.6,180.9 550.5,181.6 551.5,182.3 552.5,183 553.5,183.7 554.4,184.4 555.4,185.1 556.4,185.8 557.3,186.5 558.3,187.2 559.3,187.9 560.3,188.6 561.2,189.3 562.2,189.9 563.2,190.6 564.1,191.2 565.1,191.9 566.1,192.5 567.1,193.1 568,193.8 569,194.5 570,195.1 571,195.8 571.9,196.4 572.9,197 573.9,197.5 574.8,198 575.8,198.4 576.8,198.8 577.8,199.1 578.7,199.5 579.7,199.8 580.7,200.1 581.6,200.3 582.6,200.6 583.6,200.8 584.6,201 585.5,201.2 586.5,201.3 587.5,201.5 588.4,201.7 589.4,201.8 590.4,202 591.4,202.1 592.3,202.3 593.3,202.4 594.3,202.5 595.3,202.7 596.2,202.8 597.2,202.9 598.2,203 599.1,203.2 600.1,203.3 601.1,203.4 602.1,203.6 603,203.8 604,204 605,204.3 605.9,204.5 606.9,204.7 607.9,204.8 608.9,204.8 609.8,204.8 610.8,204.7 611.8,204.6 612.7,204.4 613.7,204.3 614.7,204.1 615.7,203.9 616.6,203.7 617.6,203.5 618.6,203.2 619.6,202.9 620.5,202.5 621.5,202.2 622.5,201.8 623.4,201.6 624.4,201.3 625.4,201 626.4,200.8 627.3,200.5 628.3,200.2 629.3,200 630.2,199.7 631.2,199.5 632.2,199.3 633.2,199.1 633.4,199" fill="none" stroke="#000" stroke-width="2" stroke-linejoin="round"/>
<g clip-path="url(#clipd)"><polyline points="57.9,-1000 60.5,356.5 63.2,487.5 65.8,512 68.5,520.7 71.1,525.1 73.8,526.9 76.4,528.1 79.1,528.6 81.7,528.8 84.3,528.6 87,528.1 89.6,526.6 92.3,523.1 94.9,518.9 97.6,513.6 100.2,507.4 102.9,500.1 105.5,492.9 108.2,486 110.8,477.2 113.4,470.5 116.1,465.9 118.7,462.3 121.4,459.3 124,457.4 126.7,458.5 129.3,464.7 132,471.7 134.6,476.4 137.2,478.9 139.9,481.8 142.5,484.6 145.2,486.6 147.8,487.6 150.5,487.7 153.1,487.2 155.8,485.9 158.4,483.5 161.1,479.9 163.7,476.2 166.3,472.9 169,470 171.6,466.4 174.3,460.2 176.9,453.1 179.6,448.6 182.2,446.8 184.9,446.1 187.5,447 190.2,449 192.8,452.8 195.4,458.3 198.1,463.1 200.7,467.3 203.4,470.8 206,473.5 208.7,475.6 211.3,477.3 214,477.6 216.6,477.5 219.2,477.4 221.9,477 224.5,476.4 227.2,475.5 229.8,474.5 232.5,473.6 235.1,472.8 237.8,472.1 240.4,471.6 243.1,471.4 245.7,471.2 248.3,470.8 251,469.1" fill="none" stroke="#66cc55" stroke-width="1"/></g>
<g fill="none" stroke="#66cc55" stroke-width="1.25"><circle cx="60.5" cy="356.5" r="3.2"/><circle cx="63.2" cy="487.5" r="3.2"/><circle cx="65.8" cy="512" r="3.2"/><circle cx="68.5" cy="520.7" r="3.2"/><circle cx="71.1" cy="525.1" r="3.2"/><circle cx="73.8" cy="526.9" r="3.2"/><circle cx="76.4" cy="528.1" r="3.2"/><circle cx="79.1" cy="528.6" r="3.2"/><circle cx="81.7" cy="528.8" r="3.2"/><circle cx="84.3" cy="528.6" r="3.2"/><circle cx="87" cy="528.1" r="3.2"/><circle cx="89.6" cy="526.6" r="3.2"/><circle cx="92.3" cy="523.1" r="3.2"/><circle cx="94.9" cy="518.9" r="3.2"/><circle cx="97.6" cy="513.6" r="3.2"/><circle cx="100.2" cy="507.4" r="3.2"/><circle cx="102.9" cy="500.1" r="3.2"/><circle cx="105.5" cy="492.9" r="3.2"/><circle cx="108.2" cy="486" r="3.2"/><circle cx="110.8" cy="477.2" r="3.2"/><circle cx="113.4" cy="470.5" r="3.2"/><circle cx="116.1" cy="465.9" r="3.2"/><circle cx="118.7" cy="462.3" r="3.2"/><circle cx="121.4" cy="459.3" r="3.2"/><circle cx="124" cy="457.4" r="3.2"/><circle cx="126.7" cy="458.5" r="3.2"/><circle cx="129.3" cy="464.7" r="3.2"/><circle cx="132" cy="471.7" r="3.2"/><circle cx="134.6" cy="476.4" r="3.2"/><circle cx="137.2" cy="478.9" r="3.2"/><circle cx="139.9" cy="481.8" r="3.2"/><circle cx="142.5" cy="484.6" r="3.2"/><circle cx="145.2" cy="486.6" r="3.2"/><circle cx="147.8" cy="487.6" r="3.2"/><circle cx="150.5" cy="487.7" r="3.2"/><circle cx="153.1" cy="487.2" r="3.2"/><circle cx="155.8" cy="485.9" r="3.2"/><circle cx="158.4" cy="483.5" r="3.2"/><circle cx="161.1" cy="479.9" r="3.2"/><circle cx="163.7" cy="476.2" r="3.2"/><circle cx="166.3" cy="472.9" r="3.2"/><circle cx="169" cy="470" r="3.2"/><circle cx="171.6" cy="466.4" r="3.2"/><circle cx="174.3" cy="460.2" r="3.2"/><circle cx="176.9" cy="453.1" r="3.2"/><circle cx="179.6" cy="448.6" r="3.2"/><circle cx="182.2" cy="446.8" r="3.2"/><circle cx="184.9" cy="446.1" r="3.2"/><circle cx="187.5" cy="447" r="3.2"/><circle cx="190.2" cy="449" r="3.2"/><circle cx="192.8" cy="452.8" r="3.2"/><circle cx="195.4" cy="458.3" r="3.2"/><circle cx="198.1" cy="463.1" r="3.2"/><circle cx="200.7" cy="467.3" r="3.2"/><circle cx="203.4" cy="470.8" r="3.2"/><circle cx="206" cy="473.5" r="3.2"/><circle cx="208.7" cy="475.6" r="3.2"/><circle cx="211.3" cy="477.3" r="3.2"/><circle cx="214" cy="477.6" r="3.2"/><circle cx="216.6" cy="477.5" r="3.2"/><circle cx="219.2" cy="477.4" r="3.2"/><circle cx="221.9" cy="477" r="3.2"/><circle cx="224.5" cy="476.4" r="3.2"/><circle cx="227.2" cy="475.5" r="3.2"/><circle cx="229.8" cy="474.5" r="3.2"/><circle cx="232.5" cy="473.6" r="3.2"/><circle cx="235.1" cy="472.8" r="3.2"/><circle cx="237.8" cy="472.1" r="3.2"/><circle cx="240.4" cy="471.6" r="3.2"/><circle cx="243.1" cy="471.4" r="3.2"/><circle cx="245.7" cy="471.2" r="3.2"/><circle cx="248.3" cy="470.8" r="3.2"/><circle cx="251" cy="469.1" r="3.2"/></g>
<g clip-path="url(#clipd)"><polyline points="57.9,528.6 60.5,534.6 63.2,534.5 65.8,534.5 68.5,534.5 71.1,534.5 73.8,534.5 76.4,534.4 79.1,534.3 81.7,534.2 84.3,534.1 87,533.9 89.6,533.6 92.3,533.3 94.9,532.9 97.6,532.4 100.2,531.7 102.9,530.8 105.5,529.5 108.2,527.9 110.8,526 113.4,523.1 116.1,520 118.7,517 121.4,514.5 124,512.7 126.7,511.3 129.3,510.1 132,509 134.6,507.8 137.2,506.6 139.9,505.5 142.5,504.4 145.2,503.3 147.8,502.2 150.5,501 153.1,500 155.8,499.3 158.4,498.1 161.1,496.2 163.7,491.9 166.3,483.6 169,469.5 170.5,459 173,436 176.1,409.9 178.2,380.8 180.7,349.1 183.5,326.6 186.6,326.6 188.9,349.1 191.7,379 194,401.5 196.8,416.5 199.6,424.5 202.9,428.8 206,431.8 209.8,432.9 211.3,432.7 214,431.3 216.6,427.7 219.2,423.3 221.9,420 224.5,418 227.2,416.9 229.8,416.5 232.5,417.1 235.1,418.3 237.8,419.5 240.4,420.7 243.1,420.9 245.7,420 248.3,418.4 251,414.1" fill="none" stroke="#3c4f9b" stroke-width="1"/></g>
<g fill="none" stroke="#3c4f9b" stroke-width="1.1"><rect x="54.6" y="525.3" width="6.6" height="6.6"/><rect x="57.2" y="531.3" width="6.6" height="6.6"/><rect x="59.9" y="531.2" width="6.6" height="6.6"/><rect x="62.5" y="531.2" width="6.6" height="6.6"/><rect x="65.2" y="531.2" width="6.6" height="6.6"/><rect x="67.8" y="531.2" width="6.6" height="6.6"/><rect x="70.5" y="531.2" width="6.6" height="6.6"/><rect x="73.1" y="531.1" width="6.6" height="6.6"/><rect x="75.8" y="531" width="6.6" height="6.6"/><rect x="78.4" y="530.9" width="6.6" height="6.6"/><rect x="81" y="530.8" width="6.6" height="6.6"/><rect x="83.7" y="530.6" width="6.6" height="6.6"/><rect x="86.3" y="530.3" width="6.6" height="6.6"/><rect x="89" y="530" width="6.6" height="6.6"/><rect x="91.6" y="529.6" width="6.6" height="6.6"/><rect x="94.3" y="529.1" width="6.6" height="6.6"/><rect x="96.9" y="528.4" width="6.6" height="6.6"/><rect x="99.6" y="527.5" width="6.6" height="6.6"/><rect x="102.2" y="526.2" width="6.6" height="6.6"/><rect x="104.9" y="524.6" width="6.6" height="6.6"/><rect x="107.5" y="522.7" width="6.6" height="6.6"/><rect x="110.1" y="519.8" width="6.6" height="6.6"/><rect x="112.8" y="516.7" width="6.6" height="6.6"/><rect x="115.4" y="513.7" width="6.6" height="6.6"/><rect x="118.1" y="511.2" width="6.6" height="6.6"/><rect x="120.7" y="509.4" width="6.6" height="6.6"/><rect x="123.4" y="508" width="6.6" height="6.6"/><rect x="126" y="506.8" width="6.6" height="6.6"/><rect x="128.7" y="505.7" width="6.6" height="6.6"/><rect x="131.3" y="504.5" width="6.6" height="6.6"/><rect x="133.9" y="503.3" width="6.6" height="6.6"/><rect x="136.6" y="502.2" width="6.6" height="6.6"/><rect x="139.2" y="501.1" width="6.6" height="6.6"/><rect x="141.9" y="500" width="6.6" height="6.6"/><rect x="144.5" y="498.9" width="6.6" height="6.6"/><rect x="147.2" y="497.7" width="6.6" height="6.6"/><rect x="149.8" y="496.7" width="6.6" height="6.6"/><rect x="152.5" y="496" width="6.6" height="6.6"/><rect x="155.1" y="494.8" width="6.6" height="6.6"/><rect x="157.8" y="492.9" width="6.6" height="6.6"/><rect x="160.4" y="488.6" width="6.6" height="6.6"/><rect x="163" y="480.3" width="6.6" height="6.6"/><rect x="165.7" y="466.2" width="6.6" height="6.6"/><rect x="167.2" y="455.7" width="6.6" height="6.6"/><rect x="169.7" y="432.7" width="6.6" height="6.6"/><rect x="172.8" y="406.6" width="6.6" height="6.6"/><rect x="174.9" y="377.5" width="6.6" height="6.6"/><rect x="177.4" y="345.8" width="6.6" height="6.6"/><rect x="180.2" y="323.3" width="6.6" height="6.6"/><rect x="183.3" y="323.3" width="6.6" height="6.6"/><rect x="185.6" y="345.8" width="6.6" height="6.6"/><rect x="188.4" y="375.7" width="6.6" height="6.6"/><rect x="190.7" y="398.2" width="6.6" height="6.6"/><rect x="193.5" y="413.2" width="6.6" height="6.6"/><rect x="196.3" y="421.2" width="6.6" height="6.6"/><rect x="199.6" y="425.5" width="6.6" height="6.6"/><rect x="202.7" y="428.5" width="6.6" height="6.6"/><rect x="206.5" y="429.6" width="6.6" height="6.6"/><rect x="208" y="429.4" width="6.6" height="6.6"/><rect x="210.7" y="428" width="6.6" height="6.6"/><rect x="213.3" y="424.4" width="6.6" height="6.6"/><rect x="215.9" y="420" width="6.6" height="6.6"/><rect x="218.6" y="416.7" width="6.6" height="6.6"/><rect x="221.2" y="414.7" width="6.6" height="6.6"/><rect x="223.9" y="413.6" width="6.6" height="6.6"/><rect x="226.5" y="413.2" width="6.6" height="6.6"/><rect x="229.2" y="413.8" width="6.6" height="6.6"/><rect x="231.8" y="415" width="6.6" height="6.6"/><rect x="234.5" y="416.2" width="6.6" height="6.6"/><rect x="237.1" y="417.4" width="6.6" height="6.6"/><rect x="239.8" y="417.6" width="6.6" height="6.6"/><rect x="242.4" y="416.7" width="6.6" height="6.6"/><rect x="245" y="415.1" width="6.6" height="6.6"/><rect x="247.7" y="410.8" width="6.6" height="6.6"/></g>
<polyline points="58.6,420.5 58.7,425.3 58.8,430.6 58.9,436.5 59,443 59.1,450.4 59.2,458.1 59.3,466.1 59.3,474.9 59.4,483.1 59.5,489.1 59.6,493.7 59.7,497.7 59.8,500.9 59.9,503.4 60,505.4 60.1,507.2 60.2,508.6 60.3,509.7 60.4,510.4 60.5,510.9 60.6,511.4 60.7,511.8 60.8,512.1 60.8,512.5 60.9,512.7 61,513 61.1,513.2 61.2,513.4 61.3,513.5 61.6,513.9 62.5,514.9 63.5,515.6 64.5,516 65.4,516.4 66.4,516.3 67.4,515.7 68.4,514.8 69.3,514.1 70.3,513.6 71.3,513.1 72.3,512.5 73.2,511 74.2,509.3 75.2,508.5 76.1,507.9 77.1,507.4 78.1,507 79.1,506.6 80,506.2 81,505.3 82,503.9 82.9,502.2 83.9,500.2 84.9,498 85.9,495.8 86.8,493.5 87.8,491.2 88.8,488.7 89.7,486 90.7,483 91.7,480 92.7,477.2 93.6,474.4 94.6,471.7 95.6,469.3 96.6,467.4 97.5,465.7 98.5,464.3 99.5,463.2 100.4,462.4 101.4,461.9 102.4,461.4 103.4,461.1 104.3,460.7 105.3,460.2 106.3,459.7 107.2,459.3 108.2,458.8 109.2,458.3 110.2,457.8 111.1,457.2 112.1,456.6 113.1,456.1 114,455.7 115,455.6 116,455.6 117,455.9 117.9,456.2 118.9,456.6 119.9,457.1 120.9,457.6 121.8,458.1 122.8,458.7 123.8,459.3 124.7,460 125.7,460.7 126.7,461.4 127.7,462.1 128.6,462.8 129.6,463.5 130.6,464.2 131.5,464.9 132.5,465.6 133.5,466.3 134.5,467 135.4,467.7 136.4,468.3 137.4,469 138.3,469.6 139.3,470.3 140.3,470.9 141.3,471.5 142.2,472.2 143.2,472.9 144.2,473.5 145.2,474.2 146.1,474.8 147.1,475.4 148.1,475.9 149,476.4 150,476.8 151,477.2 152,477.5 152.9,477.9 153.9,478.2 154.9,478.5 155.8,478.7 156.8,479 157.8,479.2 158.8,479.4 159.7,479.6 160.7,479.7 161.7,479.9 162.6,480.1 163.6,480.2 164.6,480.4 165.6,480.5 166.5,480.7 167.5,480.8 168.5,480.9 169.5,481.1 170.4,481.2 171.4,481.3 172.4,481.4 173.3,481.6 174.3,481.7 175.3,481.8 176.3,482 177.2,482.2 178.2,482.4 179.2,482.7 180.1,482.9 181.1,483.1 182.1,483.2 183.1,483.2 184,483.2 185,483.1 186,483 186.9,482.8 187.9,482.7 188.9,482.5 189.9,482.3 190.8,482.1 191.8,481.9 192.8,481.6 193.8,481.3 194.7,480.9 195.7,480.6 196.7,480.2 197.6,480 198.6,479.7 199.6,479.4 200.6,479.2 201.5,478.9 202.5,478.6 203.5,478.4 204.4,478.1 205.4,477.9 206.4,477.7 207.4,477.5 207.6,477.4" fill="none" stroke="#000" stroke-width="2" stroke-linejoin="round"/>
<g clip-path="url(#clipe)"><polyline points="271.2,533.5 273.8,532.9 276.5,532.2 279.1,531.4 281.8,530.4 284.4,529.6 287.1,527.7 289.4,524.8 291.7,517.1 294,504 297,485 299.8,460.9 302.5,436.3 304.8,418.6 307.9,416.6 310.3,430.2 312.7,450.6 315.7,465.6 317.9,471.8 321.5,472.3 324.1,469.3 326.7,465.3 329.4,460.5 332,454.3 334.7,447.8 337.3,444.5 340,443.3 342.6,443.1 345.3,444.7 347.9,448 350.5,453.7 353.2,460 355.8,464.2 358.5,467.1 361.1,468.7 363.8,469.5 366.4,469.7 369.1,469.3 371.7,468.6 374.4,467 377,464.9 379.6,462.5 382.3,459.7 384.9,456.2 387.6,452.4 390.2,448.6 392.9,445.3 395.5,443.2 398.2,443 400.8,445.2 403.4,449.2 406.1,453.1 408.7,456.3 411.4,458.7 414,460.8 416.7,462.6 419.3,464.5 422,466.5 424.6,468.4 427.3,470.1 429.9,471.8 432.5,472.1 435.2,471 437.8,469.7 440.5,468.7 443.1,467.8 445.8,467 448.4,466.4 451.1,466.1 453.7,465.7 456.4,465.2 459,464.5 461.6,463.5 464.3,462.3" fill="none" stroke="#66cc55" stroke-width="1"/></g>
<g fill="none" stroke="#66cc55" stroke-width="1.25"><circle cx="271.2" cy="533.5" r="3.2"/><circle cx="273.8" cy="532.9" r="3.2"/><circle cx="276.5" cy="532.2" r="3.2"/><circle cx="279.1" cy="531.4" r="3.2"/><circle cx="281.8" cy="530.4" r="3.2"/><circle cx="284.4" cy="529.6" r="3.2"/><circle cx="287.1" cy="527.7" r="3.2"/><circle cx="289.4" cy="524.8" r="3.2"/><circle cx="291.7" cy="517.1" r="3.2"/><circle cx="294" cy="504" r="3.2"/><circle cx="297" cy="485" r="3.2"/><circle cx="299.8" cy="460.9" r="3.2"/><circle cx="302.5" cy="436.3" r="3.2"/><circle cx="304.8" cy="418.6" r="3.2"/><circle cx="307.9" cy="416.6" r="3.2"/><circle cx="310.3" cy="430.2" r="3.2"/><circle cx="312.7" cy="450.6" r="3.2"/><circle cx="315.7" cy="465.6" r="3.2"/><circle cx="317.9" cy="471.8" r="3.2"/><circle cx="321.5" cy="472.3" r="3.2"/><circle cx="324.1" cy="469.3" r="3.2"/><circle cx="326.7" cy="465.3" r="3.2"/><circle cx="329.4" cy="460.5" r="3.2"/><circle cx="332" cy="454.3" r="3.2"/><circle cx="334.7" cy="447.8" r="3.2"/><circle cx="337.3" cy="444.5" r="3.2"/><circle cx="340" cy="443.3" r="3.2"/><circle cx="342.6" cy="443.1" r="3.2"/><circle cx="345.3" cy="444.7" r="3.2"/><circle cx="347.9" cy="448" r="3.2"/><circle cx="350.5" cy="453.7" r="3.2"/><circle cx="353.2" cy="460" r="3.2"/><circle cx="355.8" cy="464.2" r="3.2"/><circle cx="358.5" cy="467.1" r="3.2"/><circle cx="361.1" cy="468.7" r="3.2"/><circle cx="363.8" cy="469.5" r="3.2"/><circle cx="366.4" cy="469.7" r="3.2"/><circle cx="369.1" cy="469.3" r="3.2"/><circle cx="371.7" cy="468.6" r="3.2"/><circle cx="374.4" cy="467" r="3.2"/><circle cx="377" cy="464.9" r="3.2"/><circle cx="379.6" cy="462.5" r="3.2"/><circle cx="382.3" cy="459.7" r="3.2"/><circle cx="384.9" cy="456.2" r="3.2"/><circle cx="387.6" cy="452.4" r="3.2"/><circle cx="390.2" cy="448.6" r="3.2"/><circle cx="392.9" cy="445.3" r="3.2"/><circle cx="395.5" cy="443.2" r="3.2"/><circle cx="398.2" cy="443" r="3.2"/><circle cx="400.8" cy="445.2" r="3.2"/><circle cx="403.4" cy="449.2" r="3.2"/><circle cx="406.1" cy="453.1" r="3.2"/><circle cx="408.7" cy="456.3" r="3.2"/><circle cx="411.4" cy="458.7" r="3.2"/><circle cx="414" cy="460.8" r="3.2"/><circle cx="416.7" cy="462.6" r="3.2"/><circle cx="419.3" cy="464.5" r="3.2"/><circle cx="422" cy="466.5" r="3.2"/><circle cx="424.6" cy="468.4" r="3.2"/><circle cx="427.3" cy="470.1" r="3.2"/><circle cx="429.9" cy="471.8" r="3.2"/><circle cx="432.5" cy="472.1" r="3.2"/><circle cx="435.2" cy="471" r="3.2"/><circle cx="437.8" cy="469.7" r="3.2"/><circle cx="440.5" cy="468.7" r="3.2"/><circle cx="443.1" cy="467.8" r="3.2"/><circle cx="445.8" cy="467" r="3.2"/><circle cx="448.4" cy="466.4" r="3.2"/><circle cx="451.1" cy="466.1" r="3.2"/><circle cx="453.7" cy="465.7" r="3.2"/><circle cx="456.4" cy="465.2" r="3.2"/><circle cx="459" cy="464.5" r="3.2"/><circle cx="461.6" cy="463.5" r="3.2"/><circle cx="464.3" cy="462.3" r="3.2"/></g>
<g clip-path="url(#clipe)"><polyline points="271.2,534.5 273.8,534.6 276.5,534.7 279.1,534.7 281.8,534.7 284.4,534.7 287.1,534.7 289.7,534.7 292.4,534.6 295,534.6 297.6,534.5 300.3,534.5 302.9,534.4 305.6,534.2 308.2,534 310.9,533.7 313.5,533.4 316.2,532.9 318.8,532.3 321.5,531.6 324.1,530.5 326.7,529 329.4,527.3 332,525.1 334.7,522.9 337.3,520.6 340,518.4 342.6,516.4 345.3,514.5 347.9,512.9 350.5,511.6 353.2,510.1 355.8,508.2 358.5,505.9 362.3,500.9 365.4,495.5 368.4,488.6 370.7,481 373,471.7 375.8,461 378.1,450.3 380.7,438.8 383.8,425 385.8,411.3 388,400.3 391,392.2 393.8,383 396.6,372.2 399.2,361.5 402.7,361 404.8,373 406.8,390.6 409.6,405.2 412.2,416 415.3,422.9 417.6,429.8 419.3,432.6 422,435.6 424.6,436.6 427.3,437.1 429.9,436.2 432.5,433 435.2,428.8 437.8,424 440.5,422.1 443.1,421.1 445.8,421.6 448.4,422.7 451.1,424.2 453.7,425.2 456.4,425.2 459,425.2 461.6,423.6 464.3,421.6" fill="none" stroke="#3c4f9b" stroke-width="1"/></g>
<g fill="none" stroke="#3c4f9b" stroke-width="1.1"><rect x="267.9" y="531.2" width="6.6" height="6.6"/><rect x="270.5" y="531.3" width="6.6" height="6.6"/><rect x="273.2" y="531.4" width="6.6" height="6.6"/><rect x="275.8" y="531.4" width="6.6" height="6.6"/><rect x="278.5" y="531.4" width="6.6" height="6.6"/><rect x="281.1" y="531.4" width="6.6" height="6.6"/><rect x="283.8" y="531.4" width="6.6" height="6.6"/><rect x="286.4" y="531.4" width="6.6" height="6.6"/><rect x="289.1" y="531.3" width="6.6" height="6.6"/><rect x="291.7" y="531.3" width="6.6" height="6.6"/><rect x="294.3" y="531.2" width="6.6" height="6.6"/><rect x="297" y="531.2" width="6.6" height="6.6"/><rect x="299.6" y="531.1" width="6.6" height="6.6"/><rect x="302.3" y="530.9" width="6.6" height="6.6"/><rect x="304.9" y="530.7" width="6.6" height="6.6"/><rect x="307.6" y="530.4" width="6.6" height="6.6"/><rect x="310.2" y="530.1" width="6.6" height="6.6"/><rect x="312.9" y="529.6" width="6.6" height="6.6"/><rect x="315.5" y="529" width="6.6" height="6.6"/><rect x="318.2" y="528.3" width="6.6" height="6.6"/><rect x="320.8" y="527.2" width="6.6" height="6.6"/><rect x="323.4" y="525.7" width="6.6" height="6.6"/><rect x="326.1" y="524" width="6.6" height="6.6"/><rect x="328.7" y="521.8" width="6.6" height="6.6"/><rect x="331.4" y="519.6" width="6.6" height="6.6"/><rect x="334" y="517.3" width="6.6" height="6.6"/><rect x="336.7" y="515.1" width="6.6" height="6.6"/><rect x="339.3" y="513.1" width="6.6" height="6.6"/><rect x="342" y="511.2" width="6.6" height="6.6"/><rect x="344.6" y="509.6" width="6.6" height="6.6"/><rect x="347.2" y="508.3" width="6.6" height="6.6"/><rect x="349.9" y="506.8" width="6.6" height="6.6"/><rect x="352.5" y="504.9" width="6.6" height="6.6"/><rect x="355.2" y="502.6" width="6.6" height="6.6"/><rect x="359" y="497.6" width="6.6" height="6.6"/><rect x="362.1" y="492.2" width="6.6" height="6.6"/><rect x="365.1" y="485.3" width="6.6" height="6.6"/><rect x="367.4" y="477.7" width="6.6" height="6.6"/><rect x="369.7" y="468.4" width="6.6" height="6.6"/><rect x="372.5" y="457.7" width="6.6" height="6.6"/><rect x="374.8" y="447" width="6.6" height="6.6"/><rect x="377.4" y="435.5" width="6.6" height="6.6"/><rect x="380.5" y="421.7" width="6.6" height="6.6"/><rect x="382.5" y="408" width="6.6" height="6.6"/><rect x="384.7" y="397" width="6.6" height="6.6"/><rect x="387.7" y="388.9" width="6.6" height="6.6"/><rect x="390.5" y="379.7" width="6.6" height="6.6"/><rect x="393.3" y="368.9" width="6.6" height="6.6"/><rect x="395.9" y="358.2" width="6.6" height="6.6"/><rect x="399.4" y="357.7" width="6.6" height="6.6"/><rect x="401.5" y="369.7" width="6.6" height="6.6"/><rect x="403.5" y="387.3" width="6.6" height="6.6"/><rect x="406.3" y="401.9" width="6.6" height="6.6"/><rect x="408.9" y="412.7" width="6.6" height="6.6"/><rect x="412" y="419.6" width="6.6" height="6.6"/><rect x="414.3" y="426.5" width="6.6" height="6.6"/><rect x="416" y="429.3" width="6.6" height="6.6"/><rect x="418.7" y="432.3" width="6.6" height="6.6"/><rect x="421.3" y="433.3" width="6.6" height="6.6"/><rect x="424" y="433.8" width="6.6" height="6.6"/><rect x="426.6" y="432.9" width="6.6" height="6.6"/><rect x="429.2" y="429.7" width="6.6" height="6.6"/><rect x="431.9" y="425.5" width="6.6" height="6.6"/><rect x="434.5" y="420.7" width="6.6" height="6.6"/><rect x="437.2" y="418.8" width="6.6" height="6.6"/><rect x="439.8" y="417.8" width="6.6" height="6.6"/><rect x="442.5" y="418.3" width="6.6" height="6.6"/><rect x="445.1" y="419.4" width="6.6" height="6.6"/><rect x="447.8" y="420.9" width="6.6" height="6.6"/><rect x="450.4" y="421.9" width="6.6" height="6.6"/><rect x="453.1" y="421.9" width="6.6" height="6.6"/><rect x="455.7" y="421.9" width="6.6" height="6.6"/><rect x="458.3" y="420.3" width="6.6" height="6.6"/><rect x="461" y="418.3" width="6.6" height="6.6"/></g>
<polyline points="272.4,420.5 272.5,425.3 272.6,430.6 272.7,436.5 272.8,443 272.9,450.4 273,458.1 273.1,466.1 273.1,474.9 273.2,483.1 273.3,489.1 273.4,493.7 273.5,497.7 273.6,500.9 273.7,503.4 273.8,505.4 273.9,507.2 274,508.6 274.1,509.7 274.2,510.4 274.3,510.9 274.4,511.4 274.5,511.8 274.6,512.1 274.6,512.5 274.7,512.7 274.8,513 274.9,513.2 275,513.4 275.1,513.5 275.4,513.9 276.3,514.9 277.3,515.6 278.3,516 279.2,516.4 280.2,516.3 281.2,515.7 282.2,514.8 283.1,514.1 284.1,513.6 285.1,513.1 286.1,512.5 287,511 288,509.3 289,508.5 289.9,507.9 290.9,507.4 291.9,507 292.9,506.6 293.8,506.2 294.8,505.3 295.8,503.9 296.7,502.2 297.7,500.2 298.7,498 299.7,495.8 300.6,493.5 301.6,491.2 302.6,488.7 303.5,486 304.5,483 305.5,480 306.5,477.2 307.4,474.4 308.4,471.7 309.4,469.3 310.4,467.4 311.3,465.7 312.3,464.3 313.3,463.2 314.2,462.4 315.2,461.9 316.2,461.4 317.2,461.1 318.1,460.7 319.1,460.2 320.1,459.7 321,459.3 322,458.8 323,458.3 324,457.8 324.9,457.2 325.9,456.6 326.9,456.1 327.8,455.7 328.8,455.6 329.8,455.6 330.8,455.9 331.7,456.2 332.7,456.6 333.7,457.1 334.7,457.6 335.6,458.1 336.6,458.7 337.6,459.3 338.5,460 339.5,460.7 340.5,461.4 341.5,462.1 342.4,462.8 343.4,463.5 344.4,464.2 345.3,464.9 346.3,465.6 347.3,466.3 348.3,467 349.2,467.7 350.2,468.3 351.2,469 352.1,469.6 353.1,470.3 354.1,470.9 355.1,471.5 356,472.2 357,472.9 358,473.5 359,474.2 359.9,474.8 360.9,475.4 361.9,475.9 362.8,476.4 363.8,476.8 364.8,477.2 365.8,477.5 366.7,477.9 367.7,478.2 368.7,478.5 369.6,478.7 370.6,479 371.6,479.2 372.6,479.4 373.5,479.6 374.5,479.7 375.5,479.9 376.4,480.1 377.4,480.2 378.4,480.4 379.4,480.5 380.3,480.7 381.3,480.8 382.3,480.9 383.3,481.1 384.2,481.2 385.2,481.3 386.2,481.4 387.1,481.6 388.1,481.7 389.1,481.8 390.1,482 391,482.2 392,482.4 393,482.7 393.9,482.9 394.9,483.1 395.9,483.2 396.9,483.2 397.8,483.2 398.8,483.1 399.8,483 400.7,482.8 401.7,482.7 402.7,482.5 403.7,482.3 404.6,482.1 405.6,481.9 406.6,481.6 407.6,481.3 408.5,480.9 409.5,480.6 410.5,480.2 411.4,480 412.4,479.7 413.4,479.4 414.4,479.2 415.3,478.9 416.3,478.6 417.3,478.4 418.2,478.1 419.2,477.9 420.2,477.7 421.2,477.5 421.4,477.4" fill="none" stroke="#000" stroke-width="2" stroke-linejoin="round"/>
<g clip-path="url(#clipf)"><polyline points="484.2,533.8 486.8,533.8 489.5,533.7 492.1,533.7 494.8,533.6 497.4,533.5 500.1,533.3 502.7,532.9 505.4,532.5 508,531.8 510.6,530.8 513.3,529.4 515.9,528.3 518.5,527.8 521.5,524.2 523.8,517.7 526.2,508.1 528.6,501 531,497.6 533.6,497.2 536.1,497.2 538.6,496.6 541.5,493.2 544.2,486 546.4,476.9 548.9,464.6 551.8,446.4 554.7,426.9 556.8,410.9 559.7,402.2 563.5,401 566.2,401 568.8,402.5 571.5,405.6 574.1,412.4 576.8,419.2 579.4,421.6 582.1,421 584.7,418 587.4,411.8 590,405.2 592.6,401.9 595.3,400.8 597.9,401.3 600.6,404.1 603.2,410.6 605.9,417.2 608.5,423.7 611.2,428.7 613.8,431.9 616.5,434.6 619.1,437.4 621.7,440.7 624.4,443.8 627,446 629.7,447.6 632.3,448.5 635,448.8 637.6,449 640.3,449.2 642.9,449.4 645.5,449.7 648.2,450.6 650.8,451.6 653.5,452.5 656.1,453.4 658.8,454.3 661.4,455.2 664.1,456.1 666.7,456.8 669.4,457.3 672,457.6 674.6,457.7 677.3,456.4" fill="none" stroke="#66cc55" stroke-width="1"/></g>
<g fill="none" stroke="#66cc55" stroke-width="1.25"><circle cx="484.2" cy="533.8" r="3.2"/><circle cx="486.8" cy="533.8" r="3.2"/><circle cx="489.5" cy="533.7" r="3.2"/><circle cx="492.1" cy="533.7" r="3.2"/><circle cx="494.8" cy="533.6" r="3.2"/><circle cx="497.4" cy="533.5" r="3.2"/><circle cx="500.1" cy="533.3" r="3.2"/><circle cx="502.7" cy="532.9" r="3.2"/><circle cx="505.4" cy="532.5" r="3.2"/><circle cx="508" cy="531.8" r="3.2"/><circle cx="510.6" cy="530.8" r="3.2"/><circle cx="513.3" cy="529.4" r="3.2"/><circle cx="515.9" cy="528.3" r="3.2"/><circle cx="518.5" cy="527.8" r="3.2"/><circle cx="521.5" cy="524.2" r="3.2"/><circle cx="523.8" cy="517.7" r="3.2"/><circle cx="526.2" cy="508.1" r="3.2"/><circle cx="528.6" cy="501" r="3.2"/><circle cx="531" cy="497.6" r="3.2"/><circle cx="533.6" cy="497.2" r="3.2"/><circle cx="536.1" cy="497.2" r="3.2"/><circle cx="538.6" cy="496.6" r="3.2"/><circle cx="541.5" cy="493.2" r="3.2"/><circle cx="544.2" cy="486" r="3.2"/><circle cx="546.4" cy="476.9" r="3.2"/><circle cx="548.9" cy="464.6" r="3.2"/><circle cx="551.8" cy="446.4" r="3.2"/><circle cx="554.7" cy="426.9" r="3.2"/><circle cx="556.8" cy="410.9" r="3.2"/><circle cx="559.7" cy="402.2" r="3.2"/><circle cx="563.5" cy="401" r="3.2"/><circle cx="566.2" cy="401" r="3.2"/><circle cx="568.8" cy="402.5" r="3.2"/><circle cx="571.5" cy="405.6" r="3.2"/><circle cx="574.1" cy="412.4" r="3.2"/><circle cx="576.8" cy="419.2" r="3.2"/><circle cx="579.4" cy="421.6" r="3.2"/><circle cx="582.1" cy="421" r="3.2"/><circle cx="584.7" cy="418" r="3.2"/><circle cx="587.4" cy="411.8" r="3.2"/><circle cx="590" cy="405.2" r="3.2"/><circle cx="592.6" cy="401.9" r="3.2"/><circle cx="595.3" cy="400.8" r="3.2"/><circle cx="597.9" cy="401.3" r="3.2"/><circle cx="600.6" cy="404.1" r="3.2"/><circle cx="603.2" cy="410.6" r="3.2"/><circle cx="605.9" cy="417.2" r="3.2"/><circle cx="608.5" cy="423.7" r="3.2"/><circle cx="611.2" cy="428.7" r="3.2"/><circle cx="613.8" cy="431.9" r="3.2"/><circle cx="616.5" cy="434.6" r="3.2"/><circle cx="619.1" cy="437.4" r="3.2"/><circle cx="621.7" cy="440.7" r="3.2"/><circle cx="624.4" cy="443.8" r="3.2"/><circle cx="627" cy="446" r="3.2"/><circle cx="629.7" cy="447.6" r="3.2"/><circle cx="632.3" cy="448.5" r="3.2"/><circle cx="635" cy="448.8" r="3.2"/><circle cx="637.6" cy="449" r="3.2"/><circle cx="640.3" cy="449.2" r="3.2"/><circle cx="642.9" cy="449.4" r="3.2"/><circle cx="645.5" cy="449.7" r="3.2"/><circle cx="648.2" cy="450.6" r="3.2"/><circle cx="650.8" cy="451.6" r="3.2"/><circle cx="653.5" cy="452.5" r="3.2"/><circle cx="656.1" cy="453.4" r="3.2"/><circle cx="658.8" cy="454.3" r="3.2"/><circle cx="661.4" cy="455.2" r="3.2"/><circle cx="664.1" cy="456.1" r="3.2"/><circle cx="666.7" cy="456.8" r="3.2"/><circle cx="669.4" cy="457.3" r="3.2"/><circle cx="672" cy="457.6" r="3.2"/><circle cx="674.6" cy="457.7" r="3.2"/><circle cx="677.3" cy="456.4" r="3.2"/></g>
<g clip-path="url(#clipf)"><polyline points="484.2,534.6 486.8,534.6 489.5,534.6 492.1,534.6 494.8,534.5 497.4,534.5 500.1,534.5 502.7,534.5 505.4,534.4 508,534.4 510.6,534.3 513.3,534.2 515.9,534.1 518.6,534 521.2,534 523.9,533.8 526.5,533.7 529.2,533.5 531.8,533.3 534.5,533 537.1,532.6 539.7,532.1 542.4,531.2 545,530.3 547.7,529.5 550,528.4 552.4,527 555.2,525.3 557.9,523.6 560.3,521.2 562.7,518.5 565,515.8 567.4,511.7 570.2,506.2 572.9,498.2 575,487.8 577.7,470.5 580.7,449.6 582.9,428.4 585.4,414.7 588.3,410.2 591.2,413.4 593.7,417.9 596.9,421.7 599.6,424.9 602,425 605.9,423 608.5,420.4 611.2,416.7 613.8,412.1 616.5,408.9 619.1,408.2 621.7,411.5 624.4,414.5 627,415.1 629.7,415.1 632.3,412.2 635,406.9 637.6,400.6 640.3,396.2 642.9,394.4 645.5,397.3 648.2,404.5 650.8,412 653.5,418.5 656.1,422.5 658.8,423.3 661.4,423.3 664.1,422.1 666.7,422.1 669.4,423 672,424.2 674.6,424.8 677.3,425" fill="none" stroke="#3c4f9b" stroke-width="1"/></g>
<g fill="none" stroke="#3c4f9b" stroke-width="1.1"><rect x="480.9" y="531.3" width="6.6" height="6.6"/><rect x="483.5" y="531.3" width="6.6" height="6.6"/><rect x="486.2" y="531.3" width="6.6" height="6.6"/><rect x="488.8" y="531.3" width="6.6" height="6.6"/><rect x="491.5" y="531.2" width="6.6" height="6.6"/><rect x="494.1" y="531.2" width="6.6" height="6.6"/><rect x="496.8" y="531.2" width="6.6" height="6.6"/><rect x="499.4" y="531.2" width="6.6" height="6.6"/><rect x="502.1" y="531.1" width="6.6" height="6.6"/><rect x="504.7" y="531.1" width="6.6" height="6.6"/><rect x="507.3" y="531" width="6.6" height="6.6"/><rect x="510" y="530.9" width="6.6" height="6.6"/><rect x="512.6" y="530.8" width="6.6" height="6.6"/><rect x="515.3" y="530.7" width="6.6" height="6.6"/><rect x="517.9" y="530.7" width="6.6" height="6.6"/><rect x="520.6" y="530.5" width="6.6" height="6.6"/><rect x="523.2" y="530.4" width="6.6" height="6.6"/><rect x="525.9" y="530.2" width="6.6" height="6.6"/><rect x="528.5" y="530" width="6.6" height="6.6"/><rect x="531.2" y="529.7" width="6.6" height="6.6"/><rect x="533.8" y="529.3" width="6.6" height="6.6"/><rect x="536.4" y="528.8" width="6.6" height="6.6"/><rect x="539.1" y="527.9" width="6.6" height="6.6"/><rect x="541.7" y="527" width="6.6" height="6.6"/><rect x="544.4" y="526.2" width="6.6" height="6.6"/><rect x="546.7" y="525.1" width="6.6" height="6.6"/><rect x="549.1" y="523.7" width="6.6" height="6.6"/><rect x="551.9" y="522" width="6.6" height="6.6"/><rect x="554.6" y="520.3" width="6.6" height="6.6"/><rect x="557" y="517.9" width="6.6" height="6.6"/><rect x="559.4" y="515.2" width="6.6" height="6.6"/><rect x="561.7" y="512.5" width="6.6" height="6.6"/><rect x="564.1" y="508.4" width="6.6" height="6.6"/><rect x="566.9" y="502.9" width="6.6" height="6.6"/><rect x="569.6" y="494.9" width="6.6" height="6.6"/><rect x="571.7" y="484.5" width="6.6" height="6.6"/><rect x="574.4" y="467.2" width="6.6" height="6.6"/><rect x="577.4" y="446.3" width="6.6" height="6.6"/><rect x="579.6" y="425.1" width="6.6" height="6.6"/><rect x="582.1" y="411.4" width="6.6" height="6.6"/><rect x="585" y="406.9" width="6.6" height="6.6"/><rect x="587.9" y="410.1" width="6.6" height="6.6"/><rect x="590.4" y="414.6" width="6.6" height="6.6"/><rect x="593.6" y="418.4" width="6.6" height="6.6"/><rect x="596.3" y="421.6" width="6.6" height="6.6"/><rect x="598.7" y="421.7" width="6.6" height="6.6"/><rect x="602.6" y="419.7" width="6.6" height="6.6"/><rect x="605.2" y="417.1" width="6.6" height="6.6"/><rect x="607.9" y="413.4" width="6.6" height="6.6"/><rect x="610.5" y="408.8" width="6.6" height="6.6"/><rect x="613.2" y="405.6" width="6.6" height="6.6"/><rect x="615.8" y="404.9" width="6.6" height="6.6"/><rect x="618.4" y="408.2" width="6.6" height="6.6"/><rect x="621.1" y="411.2" width="6.6" height="6.6"/><rect x="623.7" y="411.8" width="6.6" height="6.6"/><rect x="626.4" y="411.8" width="6.6" height="6.6"/><rect x="629" y="408.9" width="6.6" height="6.6"/><rect x="631.7" y="403.6" width="6.6" height="6.6"/><rect x="634.3" y="397.3" width="6.6" height="6.6"/><rect x="637" y="392.9" width="6.6" height="6.6"/><rect x="639.6" y="391.1" width="6.6" height="6.6"/><rect x="642.2" y="394" width="6.6" height="6.6"/><rect x="644.9" y="401.2" width="6.6" height="6.6"/><rect x="647.5" y="408.7" width="6.6" height="6.6"/><rect x="650.2" y="415.2" width="6.6" height="6.6"/><rect x="652.8" y="419.2" width="6.6" height="6.6"/><rect x="655.5" y="420" width="6.6" height="6.6"/><rect x="658.1" y="420" width="6.6" height="6.6"/><rect x="660.8" y="418.8" width="6.6" height="6.6"/><rect x="663.4" y="418.8" width="6.6" height="6.6"/><rect x="666.1" y="419.7" width="6.6" height="6.6"/><rect x="668.7" y="420.9" width="6.6" height="6.6"/><rect x="671.3" y="421.5" width="6.6" height="6.6"/><rect x="674" y="421.7" width="6.6" height="6.6"/></g>
<polyline points="484.9,420.5 485,425.3 485.1,430.6 485.2,436.5 485.3,443 485.4,450.4 485.5,458.1 485.6,466.1 485.6,474.9 485.7,483.1 485.8,489.1 485.9,493.7 486,497.7 486.1,500.9 486.2,503.4 486.3,505.4 486.4,507.2 486.5,508.6 486.6,509.7 486.7,510.4 486.8,510.9 486.9,511.4 487,511.8 487.1,512.1 487.1,512.5 487.2,512.7 487.3,513 487.4,513.2 487.5,513.4 487.6,513.5 487.9,513.9 488.8,514.9 489.8,515.6 490.8,516 491.7,516.4 492.7,516.3 493.7,515.7 494.7,514.8 495.6,514.1 496.6,513.6 497.6,513.1 498.6,512.5 499.5,511 500.5,509.3 501.5,508.5 502.4,507.9 503.4,507.4 504.4,507 505.4,506.6 506.3,506.2 507.3,505.3 508.3,503.9 509.2,502.2 510.2,500.2 511.2,498 512.2,495.8 513.1,493.5 514.1,491.2 515.1,488.7 516,486 517,483 518,480 519,477.2 519.9,474.4 520.9,471.7 521.9,469.3 522.9,467.4 523.8,465.7 524.8,464.3 525.8,463.2 526.7,462.4 527.7,461.9 528.7,461.4 529.7,461.1 530.6,460.7 531.6,460.2 532.6,459.7 533.5,459.3 534.5,458.8 535.5,458.3 536.5,457.8 537.4,457.2 538.4,456.6 539.4,456.1 540.3,455.7 541.3,455.6 542.3,455.6 543.3,455.9 544.2,456.2 545.2,456.6 546.2,457.1 547.2,457.6 548.1,458.1 549.1,458.7 550.1,459.3 551,460 552,460.7 553,461.4 554,462.1 554.9,462.8 555.9,463.5 556.9,464.2 557.8,464.9 558.8,465.6 559.8,466.3 560.8,467 561.7,467.7 562.7,468.3 563.7,469 564.6,469.6 565.6,470.3 566.6,470.9 567.6,471.5 568.5,472.2 569.5,472.9 570.5,473.5 571.5,474.2 572.4,474.8 573.4,475.4 574.4,475.9 575.3,476.4 576.3,476.8 577.3,477.2 578.3,477.5 579.2,477.9 580.2,478.2 581.2,478.5 582.1,478.7 583.1,479 584.1,479.2 585.1,479.4 586,479.6 587,479.7 588,479.9 588.9,480.1 589.9,480.2 590.9,480.4 591.9,480.5 592.8,480.7 593.8,480.8 594.8,480.9 595.8,481.1 596.7,481.2 597.7,481.3 598.7,481.4 599.6,481.6 600.6,481.7 601.6,481.8 602.6,482 603.5,482.2 604.5,482.4 605.5,482.7 606.4,482.9 607.4,483.1 608.4,483.2 609.4,483.2 610.3,483.2 611.3,483.1 612.3,483 613.2,482.8 614.2,482.7 615.2,482.5 616.2,482.3 617.1,482.1 618.1,481.9 619.1,481.6 620.1,481.3 621,480.9 622,480.6 623,480.2 623.9,480 624.9,479.7 625.9,479.4 626.9,479.2 627.8,478.9 628.8,478.6 629.8,478.4 630.7,478.1 631.7,477.9 632.7,477.7 633.7,477.5 633.9,477.4" fill="none" stroke="#000" stroke-width="2" stroke-linejoin="round"/>
<path d="M67.6 256.6v-3.5 M67.6 0.3v3.5 M77.3 256.6v-3.5 M77.3 0.3v3.5 M87.1 256.6v-3.5 M87.1 0.3v3.5 M96.8 256.6v-3.5 M96.8 0.3v3.5 M106.5 256.6v-7 M106.5 0.3v7 M116.2 256.6v-3.5 M116.2 0.3v3.5 M125.9 256.6v-3.5 M125.9 0.3v3.5 M135.7 256.6v-3.5 M135.7 0.3v3.5 M145.4 256.6v-3.5 M145.4 0.3v3.5 M155.1 256.6v-7 M155.1 0.3v7 M164.8 256.6v-3.5 M164.8 0.3v3.5 M174.5 256.6v-3.5 M174.5 0.3v3.5 M184.3 256.6v-3.5 M184.3 0.3v3.5 M194 256.6v-3.5 M194 0.3v3.5 M203.7 256.6v-7 M203.7 0.3v7 M213.4 256.6v-3.5 M213.4 0.3v3.5 M223.1 256.6v-3.5 M223.1 0.3v3.5 M232.9 256.6v-3.5 M232.9 0.3v3.5 M242.6 256.6v-3.5 M242.6 0.3v3.5 M57.5 235.3h3.5 M252.3 235.3h-3.5 M57.5 213.9h3.5 M252.3 213.9h-3.5 M57.5 192.6h3.5 M252.3 192.6h-3.5 M57.5 171.2h7 M252.3 171.2h-7 M57.5 149.9h3.5 M252.3 149.9h-3.5 M57.5 128.5h3.5 M252.3 128.5h-3.5 M57.5 107.2h3.5 M252.3 107.2h-3.5 M57.5 85.8h7 M252.3 85.8h-7 M57.5 64.5h3.5 M252.3 64.5h-3.5 M57.5 43.1h3.5 M252.3 43.1h-3.5 M57.5 21.8h3.5 M252.3 21.8h-3.5" stroke="#222" stroke-width="1" fill="none"/>
<rect x="57.5" y="0.3" width="194.8" height="256.3" fill="none" stroke="#000" stroke-width="1.3"/>
<path d="M280.9 256.6v-3.5 M280.9 0.3v3.5 M290.6 256.6v-3.5 M290.6 0.3v3.5 M300.4 256.6v-3.5 M300.4 0.3v3.5 M310.1 256.6v-3.5 M310.1 0.3v3.5 M319.8 256.6v-7 M319.8 0.3v7 M329.5 256.6v-3.5 M329.5 0.3v3.5 M339.2 256.6v-3.5 M339.2 0.3v3.5 M349 256.6v-3.5 M349 0.3v3.5 M358.7 256.6v-3.5 M358.7 0.3v3.5 M368.4 256.6v-7 M368.4 0.3v7 M378.1 256.6v-3.5 M378.1 0.3v3.5 M387.8 256.6v-3.5 M387.8 0.3v3.5 M397.6 256.6v-3.5 M397.6 0.3v3.5 M407.3 256.6v-3.5 M407.3 0.3v3.5 M417 256.6v-7 M417 0.3v7 M426.7 256.6v-3.5 M426.7 0.3v3.5 M436.4 256.6v-3.5 M436.4 0.3v3.5 M446.2 256.6v-3.5 M446.2 0.3v3.5 M455.9 256.6v-3.5 M455.9 0.3v3.5 M270.8 235.3h3.5 M465.6 235.3h-3.5 M270.8 213.9h3.5 M465.6 213.9h-3.5 M270.8 192.6h3.5 M465.6 192.6h-3.5 M270.8 171.2h7 M465.6 171.2h-7 M270.8 149.9h3.5 M465.6 149.9h-3.5 M270.8 128.5h3.5 M465.6 128.5h-3.5 M270.8 107.2h3.5 M465.6 107.2h-3.5 M270.8 85.8h7 M465.6 85.8h-7 M270.8 64.5h3.5 M465.6 64.5h-3.5 M270.8 43.1h3.5 M465.6 43.1h-3.5 M270.8 21.8h3.5 M465.6 21.8h-3.5" stroke="#222" stroke-width="1" fill="none"/>
<rect x="270.8" y="0.3" width="194.8" height="256.3" fill="none" stroke="#000" stroke-width="1.3"/>
<path d="M493.9 256.6v-3.5 M493.9 0.3v3.5 M503.6 256.6v-3.5 M503.6 0.3v3.5 M513.4 256.6v-3.5 M513.4 0.3v3.5 M523.1 256.6v-3.5 M523.1 0.3v3.5 M532.8 256.6v-7 M532.8 0.3v7 M542.5 256.6v-3.5 M542.5 0.3v3.5 M552.2 256.6v-3.5 M552.2 0.3v3.5 M562 256.6v-3.5 M562 0.3v3.5 M571.7 256.6v-3.5 M571.7 0.3v3.5 M581.4 256.6v-7 M581.4 0.3v7 M591.1 256.6v-3.5 M591.1 0.3v3.5 M600.8 256.6v-3.5 M600.8 0.3v3.5 M610.6 256.6v-3.5 M610.6 0.3v3.5 M620.3 256.6v-3.5 M620.3 0.3v3.5 M630 256.6v-7 M630 0.3v7 M639.7 256.6v-3.5 M639.7 0.3v3.5 M649.4 256.6v-3.5 M649.4 0.3v3.5 M659.2 256.6v-3.5 M659.2 0.3v3.5 M668.9 256.6v-3.5 M668.9 0.3v3.5 M483.8 235.3h3.5 M678.6 235.3h-3.5 M483.8 213.9h3.5 M678.6 213.9h-3.5 M483.8 192.6h3.5 M678.6 192.6h-3.5 M483.8 171.2h7 M678.6 171.2h-7 M483.8 149.9h3.5 M678.6 149.9h-3.5 M483.8 128.5h3.5 M678.6 128.5h-3.5 M483.8 107.2h3.5 M678.6 107.2h-3.5 M483.8 85.8h7 M678.6 85.8h-7 M483.8 64.5h3.5 M678.6 64.5h-3.5 M483.8 43.1h3.5 M678.6 43.1h-3.5 M483.8 21.8h3.5 M678.6 21.8h-3.5" stroke="#222" stroke-width="1" fill="none"/>
<rect x="483.8" y="0.3" width="194.8" height="256.3" fill="none" stroke="#000" stroke-width="1.3"/>
<path d="M67.6 535v-3.5 M67.6 279.5v3.5 M77.3 535v-3.5 M77.3 279.5v3.5 M87.1 535v-3.5 M87.1 279.5v3.5 M96.8 535v-3.5 M96.8 279.5v3.5 M106.5 535v-7 M106.5 279.5v7 M116.2 535v-3.5 M116.2 279.5v3.5 M125.9 535v-3.5 M125.9 279.5v3.5 M135.7 535v-3.5 M135.7 279.5v3.5 M145.4 535v-3.5 M145.4 279.5v3.5 M155.1 535v-7 M155.1 279.5v7 M164.8 535v-3.5 M164.8 279.5v3.5 M174.5 535v-3.5 M174.5 279.5v3.5 M184.3 535v-3.5 M184.3 279.5v3.5 M194 535v-3.5 M194 279.5v3.5 M203.7 535v-7 M203.7 279.5v7 M213.4 535v-3.5 M213.4 279.5v3.5 M223.1 535v-3.5 M223.1 279.5v3.5 M232.9 535v-3.5 M232.9 279.5v3.5 M242.6 535v-3.5 M242.6 279.5v3.5 M57.5 513.6h3.5 M252.3 513.6h-3.5 M57.5 492.3h3.5 M252.3 492.3h-3.5 M57.5 470.9h3.5 M252.3 470.9h-3.5 M57.5 449.6h7 M252.3 449.6h-7 M57.5 428.2h3.5 M252.3 428.2h-3.5 M57.5 406.9h3.5 M252.3 406.9h-3.5 M57.5 385.5h3.5 M252.3 385.5h-3.5 M57.5 364.2h7 M252.3 364.2h-7 M57.5 342.9h3.5 M252.3 342.9h-3.5 M57.5 321.5h3.5 M252.3 321.5h-3.5 M57.5 300.1h3.5 M252.3 300.1h-3.5" stroke="#222" stroke-width="1" fill="none"/>
<rect x="57.5" y="279.5" width="194.8" height="255.5" fill="none" stroke="#000" stroke-width="1.3"/>
<path d="M280.9 535v-3.5 M280.9 279.5v3.5 M290.6 535v-3.5 M290.6 279.5v3.5 M300.4 535v-3.5 M300.4 279.5v3.5 M310.1 535v-3.5 M310.1 279.5v3.5 M319.8 535v-7 M319.8 279.5v7 M329.5 535v-3.5 M329.5 279.5v3.5 M339.2 535v-3.5 M339.2 279.5v3.5 M349 535v-3.5 M349 279.5v3.5 M358.7 535v-3.5 M358.7 279.5v3.5 M368.4 535v-7 M368.4 279.5v7 M378.1 535v-3.5 M378.1 279.5v3.5 M387.8 535v-3.5 M387.8 279.5v3.5 M397.6 535v-3.5 M397.6 279.5v3.5 M407.3 535v-3.5 M407.3 279.5v3.5 M417 535v-7 M417 279.5v7 M426.7 535v-3.5 M426.7 279.5v3.5 M436.4 535v-3.5 M436.4 279.5v3.5 M446.2 535v-3.5 M446.2 279.5v3.5 M455.9 535v-3.5 M455.9 279.5v3.5 M270.8 513.6h3.5 M465.6 513.6h-3.5 M270.8 492.3h3.5 M465.6 492.3h-3.5 M270.8 470.9h3.5 M465.6 470.9h-3.5 M270.8 449.6h7 M465.6 449.6h-7 M270.8 428.2h3.5 M465.6 428.2h-3.5 M270.8 406.9h3.5 M465.6 406.9h-3.5 M270.8 385.5h3.5 M465.6 385.5h-3.5 M270.8 364.2h7 M465.6 364.2h-7 M270.8 342.9h3.5 M465.6 342.9h-3.5 M270.8 321.5h3.5 M465.6 321.5h-3.5 M270.8 300.1h3.5 M465.6 300.1h-3.5" stroke="#222" stroke-width="1" fill="none"/>
<rect x="270.8" y="279.5" width="194.8" height="255.5" fill="none" stroke="#000" stroke-width="1.3"/>
<path d="M493.9 535v-3.5 M493.9 279.5v3.5 M503.6 535v-3.5 M503.6 279.5v3.5 M513.4 535v-3.5 M513.4 279.5v3.5 M523.1 535v-3.5 M523.1 279.5v3.5 M532.8 535v-7 M532.8 279.5v7 M542.5 535v-3.5 M542.5 279.5v3.5 M552.2 535v-3.5 M552.2 279.5v3.5 M562 535v-3.5 M562 279.5v3.5 M571.7 535v-3.5 M571.7 279.5v3.5 M581.4 535v-7 M581.4 279.5v7 M591.1 535v-3.5 M591.1 279.5v3.5 M600.8 535v-3.5 M600.8 279.5v3.5 M610.6 535v-3.5 M610.6 279.5v3.5 M620.3 535v-3.5 M620.3 279.5v3.5 M630 535v-7 M630 279.5v7 M639.7 535v-3.5 M639.7 279.5v3.5 M649.4 535v-3.5 M649.4 279.5v3.5 M659.2 535v-3.5 M659.2 279.5v3.5 M668.9 535v-3.5 M668.9 279.5v3.5 M483.8 513.6h3.5 M678.6 513.6h-3.5 M483.8 492.3h3.5 M678.6 492.3h-3.5 M483.8 470.9h3.5 M678.6 470.9h-3.5 M483.8 449.6h7 M678.6 449.6h-7 M483.8 428.2h3.5 M678.6 428.2h-3.5 M483.8 406.9h3.5 M678.6 406.9h-3.5 M483.8 385.5h3.5 M678.6 385.5h-3.5 M483.8 364.2h7 M678.6 364.2h-7 M483.8 342.9h3.5 M678.6 342.9h-3.5 M483.8 321.5h3.5 M678.6 321.5h-3.5 M483.8 300.1h3.5 M678.6 300.1h-3.5" stroke="#222" stroke-width="1" fill="none"/>
<rect x="483.8" y="279.5" width="194.8" height="255.5" fill="none" stroke="#000" stroke-width="1.3"/>
<text x="59.8" y="558" font-size="17.5" text-anchor="middle">0</text>
<text x="108.5" y="558" font-size="17.5" text-anchor="middle">1</text>
<text x="157.3" y="558" font-size="17.5" text-anchor="middle">2</text>
<text x="206.1" y="558" font-size="17.5" text-anchor="middle">3</text>
<text x="254.8" y="558" font-size="17.5" text-anchor="middle">4</text>
<text x="273.1" y="558" font-size="17.5" text-anchor="middle">0</text>
<text x="321.8" y="558" font-size="17.5" text-anchor="middle">1</text>
<text x="370.6" y="558" font-size="17.5" text-anchor="middle">2</text>
<text x="419.3" y="558" font-size="17.5" text-anchor="middle">3</text>
<text x="468.1" y="558" font-size="17.5" text-anchor="middle">4</text>
<text x="486.1" y="558" font-size="17.5" text-anchor="middle">0</text>
<text x="534.8" y="558" font-size="17.5" text-anchor="middle">1</text>
<text x="583.6" y="558" font-size="17.5" text-anchor="middle">2</text>
<text x="632.3" y="558" font-size="17.5" text-anchor="middle">3</text>
<text x="681.1" y="558" font-size="17.5" text-anchor="middle">4</text>
<text x="47.6" y="262.8" font-size="17.5" text-anchor="end">0</text>
<text x="47.6" y="187.2" font-size="17.5" text-anchor="end">1</text>
<text x="47.6" y="111.6" font-size="17.5" text-anchor="end">2</text>
<text x="47.6" y="36.5" font-size="17.5" text-anchor="end">3</text>
<text x="47.6" y="511.6" font-size="17.5" text-anchor="end">0</text>
<text x="47.6" y="436.0" font-size="17.5" text-anchor="end">1</text>
<text x="47.6" y="361.0" font-size="17.5" text-anchor="end">2</text>
<text x="47.6" y="285.2" font-size="17.5" text-anchor="end">3</text>
<text x="154.9" y="583" font-size="17" text-anchor="middle">Photon energy <tspan font-family="Liberation Serif" font-size="18.5">ω</tspan> (eV)</text>
<text x="368.2" y="583" font-size="17" text-anchor="middle">Photon energy <tspan font-family="Liberation Serif" font-size="18.5">ω</tspan> (eV)</text>
<text x="581.2" y="583" font-size="17" text-anchor="middle">Photon energy <tspan font-family="Liberation Serif" font-size="18.5">ω</tspan> (eV)</text>
<text transform="translate(19,417.6) rotate(-90)" font-size="17.4" >Optical conductivity</text>
<text transform="translate(19,265.0) rotate(-90)" font-size="17.4" ><tspan font-family="Liberation Serif" font-size="18.5">σ(ω)</tspan></text>
<text transform="translate(19,226.0) rotate(-90)" font-size="17.4" >(10</text>
<text transform="translate(10.4,200.6) rotate(-90)" font-size="10.5" >3</text>
<text transform="translate(19,190.8) rotate(-90)" font-size="17.4" >Ω</text>
<text transform="translate(10.4,178.2) rotate(-90)" font-size="10.5" >-1</text>
<text transform="translate(19,161.4) rotate(-90)" font-size="17.4" >cm</text>
<text transform="translate(10.4,139.2) rotate(-90)" font-size="10.5" >-1</text>
<text transform="translate(19,127.4) rotate(-90)" font-size="17.4" >)</text>
<text x="66" y="23.9" font-size="17.3">(a)</text>
<text x="277.8" y="23.9" font-size="17.3">(b) Ferromagnetic</text>
<text x="491.3" y="23.9" font-size="17.3">(c) <tspan font-family="Liberation Serif" font-size="18">(π,0)</tspan> stripe AFM</text>
<text x="140.6" y="243.8" font-size="17.3" textLength="101">Nonmagnetic</text>
<text x="66.2" y="303.9" font-size="17.3">(d)</text><text x="92.6" y="303.9" font-size="17.3">AFM-<tspan font-style="italic">A</tspan></text>
<text x="283.1" y="303.9" font-size="17.3">AFM-<tspan font-style="italic">A</tspan> with</text>
<text x="437" y="303.9" font-size="17.3">(e)</text>
<text x="283.1" y="324.6" font-size="17.3" textLength="165">site disproportionation</text>
<text x="487.6" y="303.9" font-size="17.3" textLength="184.5">(f) <tspan font-family="Liberation Serif" font-size="17.6">(π/2,π/2)</tspan> bi-stripe AFM</text>
<text x="507.2" y="325.6" font-size="17.3" textLength="130">with charge order</text>
<text x="171.8" y="18.8" font-size="17.2" text-anchor="end" font-family="Liberation Serif">σ</text>
<text x="204" y="23.4" font-size="14" font-style="italic" text-anchor="end">xx,yy</text>
<text x="188" y="36" font-size="17.2" text-anchor="end" font-family="Liberation Serif">σ</text>
<text x="204" y="40.5" font-size="14" font-style="italic" text-anchor="end">zz</text>
<text x="202.5" y="54.3" font-size="16.3" text-anchor="end">Exp.</text>
<path d="M213 14.8H240.3" stroke="#66cc55" stroke-width="1"/><circle cx="226.6" cy="14.8" r="3.5" fill="none" stroke="#66cc55" stroke-width="1"/>
<path d="M213 31.8H240.3" stroke="#3c4f9b" stroke-width="1"/><rect x="223.1" y="28.3" width="7" height="7" fill="none" stroke="#3c4f9b" stroke-width="1"/>
<path d="M213 48.6H240.3" stroke="#000" stroke-width="2"/>
</svg></body></html>
